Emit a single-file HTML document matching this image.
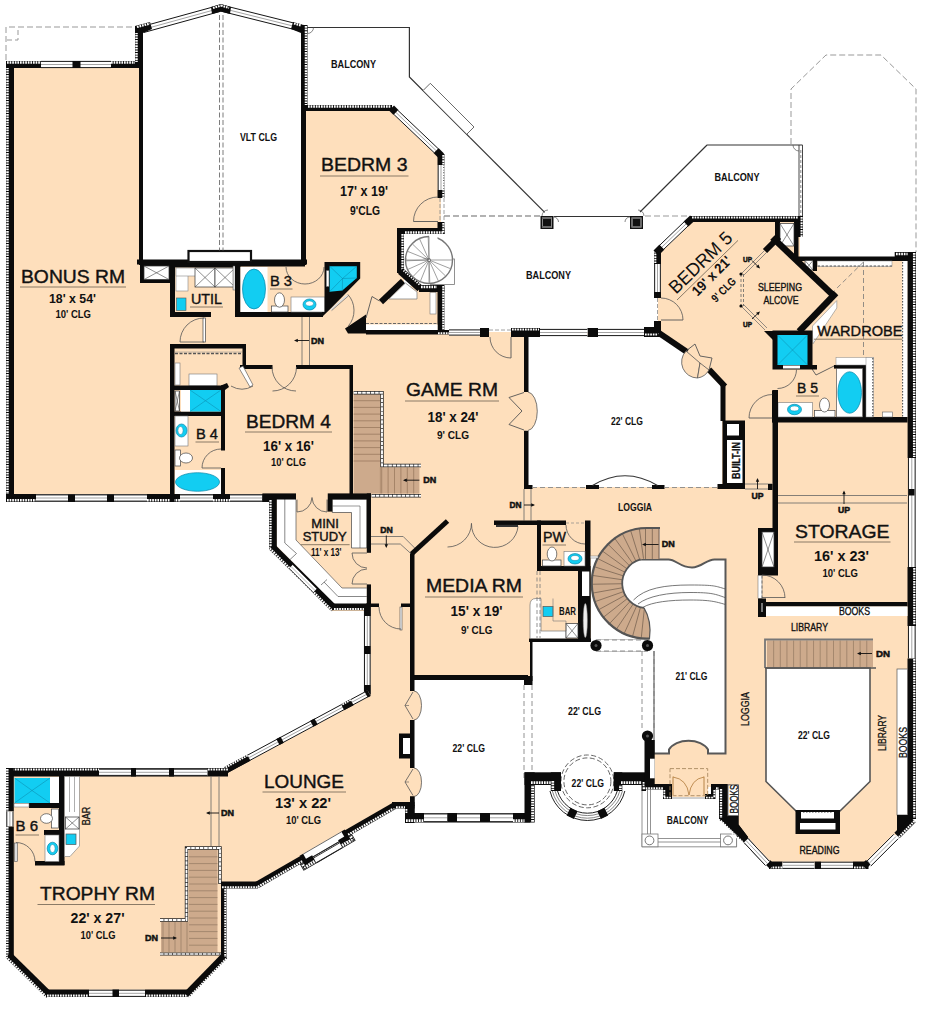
<!DOCTYPE html>
<html><head><meta charset="utf-8"><title>Floor plan</title>
<style>html,body{margin:0;padding:0;background:#fff}svg{display:block}text{font-family:"Liberation Sans",sans-serif}</style>
</head><body>
<svg width="940" height="1034" viewBox="0 0 940 1034">
<rect width="940" height="1034" fill="#fff"/>
<polygon points="9,64 139,64 139,263 304,263 304,108 392,108 441,155 441,231 400,231 400,272 418,288 441,288 441,332 658,332 658,252 692,219 800,219 800,258 911,258 911,819 867,865 769,865 724,819 724,787 708,787 708,797 668,797 668,787 643,787 643,781 528,781 528,818 409,818 409,805 394,805 258,885 224,885 224,958 188,993 47,993 9,958 9,772 228,772 368,694 368,611 331,611 273,549 273,498 9,498" fill="#FEDFBC"/>
<polygon points="526,335 661,335 686,352 722,387 722,487 526,487" fill="#fff"/>
<path d="M414 680 L530 680 L530 642 L591 642 L591 558 L597 558 A56 56 0 0 1 647 527.3 L660 527.3 L660 559.4 L668.5 559.4 C676 559.4 680 567.5 692 567.5 C702 567.5 706 559.4 714.5 559.4 L725.5 559.4 L725.5 753.5 L708 753.5 L708 749.5 A21 14 0 0 0 669 749.5 L669 753.5 L650 753.5 L650 781 L528 781 L528 818 L414 818 Z" fill="#fff" />
<circle cx="587.4" cy="782" r="38" fill="#fff"/>
<polygon points="766,668 870,668 870,781.5 840,811 796,811 766,781.5" fill="#fff" stroke="#555" stroke-width="1.6"/>
<path d="M639.6 559.4 L668.5 559.4 C676 559.4 680 567.5 692 567.5 C702 567.5 706 559.4 714.5 559.4 L725.5 559.4 L725.5 753.5 L708 753.5 L708 749.5 A21 14 0 0 0 669 749.5 L669 753.5 L654 753.5" fill="none" stroke="#585858" stroke-width="2" />
<line x1="654" y1="651" x2="654" y2="753.5" stroke="#666" stroke-width="1.2"/>
<path d="M647 527.3 A56 56 0 1 0 649.44 639.25 Q652 621 643.98 607.92 A24.8 24.8 0 0 1 647 558.5 Z" fill="#CDAA8C" />
<rect x="640" y="527.3" width="19.5" height="31.7" fill="#CDAA8C"/>
<line x1="643.55" y1="558.74" x2="639.21" y2="527.84" stroke="#5e4d3f" stroke-width="0.6"/>
<line x1="639.66" y1="559.61" x2="630.42" y2="529.81" stroke="#5e4d3f" stroke-width="0.6"/>
<line x1="635.96" y1="561.09" x2="622.06" y2="533.16" stroke="#5e4d3f" stroke-width="0.6"/>
<line x1="632.54" y1="563.15" x2="614.35" y2="537.8" stroke="#5e4d3f" stroke-width="0.6"/>
<line x1="629.5" y1="565.73" x2="607.48" y2="543.63" stroke="#5e4d3f" stroke-width="0.6"/>
<line x1="626.91" y1="568.76" x2="601.63" y2="550.47" stroke="#5e4d3f" stroke-width="0.6"/>
<line x1="624.84" y1="572.17" x2="596.96" y2="558.17" stroke="#5e4d3f" stroke-width="0.6"/>
<line x1="623.34" y1="575.87" x2="593.58" y2="566.51" stroke="#5e4d3f" stroke-width="0.6"/>
<line x1="622.45" y1="579.75" x2="591.58" y2="575.29" stroke="#5e4d3f" stroke-width="0.6"/>
<line x1="622.2" y1="583.73" x2="591.01" y2="584.28" stroke="#5e4d3f" stroke-width="0.6"/>
<line x1="622.59" y1="587.7" x2="591.89" y2="593.24" stroke="#5e4d3f" stroke-width="0.6"/>
<line x1="623.61" y1="591.56" x2="594.19" y2="601.94" stroke="#5e4d3f" stroke-width="0.6"/>
<line x1="625.24" y1="595.2" x2="597.86" y2="610.16" stroke="#5e4d3f" stroke-width="0.6"/>
<line x1="627.43" y1="598.53" x2="602.8" y2="617.69" stroke="#5e4d3f" stroke-width="0.6"/>
<line x1="630.12" y1="601.47" x2="608.89" y2="624.33" stroke="#5e4d3f" stroke-width="0.6"/>
<line x1="633.25" y1="603.94" x2="615.96" y2="629.91" stroke="#5e4d3f" stroke-width="0.6"/>
<line x1="636.74" y1="605.88" x2="623.83" y2="634.28" stroke="#5e4d3f" stroke-width="0.6"/>
<line x1="640.49" y1="607.23" x2="632.3" y2="637.34" stroke="#5e4d3f" stroke-width="0.6"/>
<line x1="644.41" y1="607.96" x2="641.15" y2="638.99" stroke="#5e4d3f" stroke-width="0.6"/>
<line x1="645.5" y1="528" x2="645.5" y2="559" stroke="#5e4d3f" stroke-width="0.6"/>
<line x1="652.3" y1="528" x2="652.3" y2="559" stroke="#5e4d3f" stroke-width="0.6"/>
<line x1="659" y1="528" x2="659" y2="559" stroke="#5e4d3f" stroke-width="0.8"/>
<path d="M660 528 L647 528 A55.3 55.3 0 1 0 649.41 638.55" fill="none" stroke="#555" stroke-width="2.2" />
<path d="M649.44 639.25 Q652 621 643.98 607.92" fill="none" stroke="#555" stroke-width="1.2" />
<path d="M643.98 607.92 A24.8 24.8 0 0 1 640.58 559.35" fill="none" stroke="#555" stroke-width="1.8" />
<path d="M633.5 600 C645 588 665 585 690 585 S715 586 725.5 589" fill="none" stroke="#555" stroke-width="0.8" />
<path d="M638 604 C648 596 668 592.5 690 592.5 S715 594 725.5 597.7" fill="none" stroke="#555" stroke-width="0.8" />
<path d="M643 607.3 C652 602 670 600 690 600 S715 601.5 725.5 604.5" fill="none" stroke="#555" stroke-width="0.8" />
<line x1="658.6" y1="544.5" x2="643.5" y2="544.5" stroke="#111" stroke-width="0.9"/>
<polygon points="642,544.5 645.83,546.21 645.83,542.79" fill="#111"/>
<text x="661.7" y="547.4" font-size="8.5" font-weight="bold" text-anchor="start" fill="#111" textLength="13" lengthAdjust="spacingAndGlyphs" stroke="#111" stroke-width="0.5">DN</text>
<rect x="353.6" y="394" width="26.8" height="99.6" fill="#CDAA8C"/>
<rect x="380.4" y="467.4" width="39" height="26.2" fill="#CDAA8C"/>
<line x1="353.6" y1="400.7" x2="380.4" y2="400.7" stroke="#8a6a50" stroke-width="0.6"/>
<line x1="353.6" y1="407.4" x2="380.4" y2="407.4" stroke="#8a6a50" stroke-width="0.6"/>
<line x1="353.6" y1="414.1" x2="380.4" y2="414.1" stroke="#8a6a50" stroke-width="0.6"/>
<line x1="353.6" y1="420.8" x2="380.4" y2="420.8" stroke="#8a6a50" stroke-width="0.6"/>
<line x1="353.6" y1="427.5" x2="380.4" y2="427.5" stroke="#8a6a50" stroke-width="0.6"/>
<line x1="353.6" y1="434.2" x2="380.4" y2="434.2" stroke="#8a6a50" stroke-width="0.6"/>
<line x1="353.6" y1="440.9" x2="380.4" y2="440.9" stroke="#8a6a50" stroke-width="0.6"/>
<line x1="353.6" y1="447.6" x2="380.4" y2="447.6" stroke="#8a6a50" stroke-width="0.6"/>
<line x1="353.6" y1="454.3" x2="380.4" y2="454.3" stroke="#8a6a50" stroke-width="0.6"/>
<line x1="353.6" y1="461" x2="380.4" y2="461" stroke="#8a6a50" stroke-width="0.6"/>
<line x1="381.7" y1="467.4" x2="381.7" y2="493.6" stroke="#8a6a50" stroke-width="0.6"/>
<line x1="388.1" y1="467.4" x2="388.1" y2="493.6" stroke="#8a6a50" stroke-width="0.6"/>
<line x1="394.5" y1="467.4" x2="394.5" y2="493.6" stroke="#8a6a50" stroke-width="0.6"/>
<line x1="400.9" y1="467.4" x2="400.9" y2="493.6" stroke="#8a6a50" stroke-width="0.6"/>
<line x1="407.3" y1="467.4" x2="407.3" y2="493.6" stroke="#8a6a50" stroke-width="0.6"/>
<line x1="413.7" y1="467.4" x2="413.7" y2="493.6" stroke="#8a6a50" stroke-width="0.6"/>
<line x1="380.4" y1="467.4" x2="380.4" y2="493.6" stroke="#8a6a50" stroke-width="0.5"/>
<polyline points="353.6,392.7 382,392.7 382,465.5 421,465.5" fill="none" stroke="#222" stroke-width="3.4"/>
<polyline points="353.6,392.7 382,392.7 382,465.5 421,465.5" fill="none" stroke="#fff" stroke-width="1.9" stroke-dasharray="3.6 0.7"/>
<line x1="371.5" y1="495.7" x2="421" y2="495.7" stroke="#222" stroke-width="3.4"/>
<line x1="371.5" y1="495.7" x2="421" y2="495.7" stroke="#fff" stroke-width="1.9" stroke-dasharray="3.6 0.7"/>
<line x1="419.4" y1="480.2" x2="404.5" y2="480.2" stroke="#111" stroke-width="0.9"/>
<polygon points="403,480.2 406.83,481.91 406.83,478.49" fill="#111"/>
<text x="423.2" y="482.8" font-size="8.5" font-weight="bold" text-anchor="start" fill="#111" textLength="13" lengthAdjust="spacingAndGlyphs" stroke="#111" stroke-width="0.5">DN</text>
<rect x="189" y="850" width="28.5" height="102" fill="#CDAA8C"/>
<rect x="161" y="922" width="28" height="30" fill="#CDAA8C"/>
<line x1="189" y1="856.8" x2="217.5" y2="856.8" stroke="#7d6650" stroke-width="0.5"/>
<line x1="189" y1="863.6" x2="217.5" y2="863.6" stroke="#7d6650" stroke-width="0.5"/>
<line x1="189" y1="870.4" x2="217.5" y2="870.4" stroke="#7d6650" stroke-width="0.5"/>
<line x1="189" y1="877.2" x2="217.5" y2="877.2" stroke="#7d6650" stroke-width="0.5"/>
<line x1="189" y1="884" x2="217.5" y2="884" stroke="#7d6650" stroke-width="0.5"/>
<line x1="189" y1="890.8" x2="217.5" y2="890.8" stroke="#7d6650" stroke-width="0.5"/>
<line x1="189" y1="897.6" x2="217.5" y2="897.6" stroke="#7d6650" stroke-width="0.5"/>
<line x1="189" y1="904.4" x2="217.5" y2="904.4" stroke="#7d6650" stroke-width="0.5"/>
<line x1="189" y1="911.2" x2="217.5" y2="911.2" stroke="#7d6650" stroke-width="0.5"/>
<line x1="189" y1="918" x2="217.5" y2="918" stroke="#7d6650" stroke-width="0.5"/>
<line x1="189" y1="924.8" x2="217.5" y2="924.8" stroke="#7d6650" stroke-width="0.5"/>
<line x1="189" y1="931.6" x2="217.5" y2="931.6" stroke="#7d6650" stroke-width="0.5"/>
<line x1="189" y1="938.4" x2="217.5" y2="938.4" stroke="#7d6650" stroke-width="0.5"/>
<line x1="189" y1="945.2" x2="217.5" y2="945.2" stroke="#7d6650" stroke-width="0.5"/>
<line x1="163" y1="922" x2="163" y2="952" stroke="#7d6650" stroke-width="0.5"/>
<line x1="169" y1="922" x2="169" y2="952" stroke="#7d6650" stroke-width="0.5"/>
<line x1="175" y1="922" x2="175" y2="952" stroke="#7d6650" stroke-width="0.5"/>
<line x1="181" y1="922" x2="181" y2="952" stroke="#7d6650" stroke-width="0.5"/>
<line x1="187" y1="922" x2="187" y2="952" stroke="#7d6650" stroke-width="0.5"/>
<polyline points="160,920 186.5,920 186.5,848 220,848 220,884" fill="none" stroke="#222" stroke-width="3.4"/>
<polyline points="160,920 186.5,920 186.5,848 220,848 220,884" fill="none" stroke="#fff" stroke-width="1.9" stroke-dasharray="3.6 0.7"/>
<line x1="160" y1="954" x2="221" y2="954" stroke="#222" stroke-width="3"/>
<line x1="160" y1="954" x2="221" y2="954" stroke="#fff" stroke-width="1.7" stroke-dasharray="3.6 0.7"/>
<line x1="161" y1="938" x2="175.5" y2="938" stroke="#111" stroke-width="0.9"/>
<polygon points="177,938 173.17,936.29 173.17,939.71" fill="#111"/>
<text x="145" y="941" font-size="8.5" font-weight="bold" text-anchor="start" fill="#111" textLength="13" lengthAdjust="spacingAndGlyphs" stroke="#111" stroke-width="0.5">DN</text>
<rect x="767" y="640.5" width="106" height="26.5" fill="#CDAA8C"/>
<line x1="773.65" y1="640.5" x2="773.65" y2="667" stroke="#7d6650" stroke-width="0.5"/>
<line x1="780.3" y1="640.5" x2="780.3" y2="667" stroke="#7d6650" stroke-width="0.5"/>
<line x1="786.95" y1="640.5" x2="786.95" y2="667" stroke="#7d6650" stroke-width="0.5"/>
<line x1="793.6" y1="640.5" x2="793.6" y2="667" stroke="#7d6650" stroke-width="0.5"/>
<line x1="800.25" y1="640.5" x2="800.25" y2="667" stroke="#7d6650" stroke-width="0.5"/>
<line x1="806.9" y1="640.5" x2="806.9" y2="667" stroke="#7d6650" stroke-width="0.5"/>
<line x1="813.55" y1="640.5" x2="813.55" y2="667" stroke="#7d6650" stroke-width="0.5"/>
<line x1="820.2" y1="640.5" x2="820.2" y2="667" stroke="#7d6650" stroke-width="0.5"/>
<line x1="826.85" y1="640.5" x2="826.85" y2="667" stroke="#7d6650" stroke-width="0.5"/>
<line x1="833.5" y1="640.5" x2="833.5" y2="667" stroke="#7d6650" stroke-width="0.5"/>
<line x1="840.15" y1="640.5" x2="840.15" y2="667" stroke="#7d6650" stroke-width="0.5"/>
<line x1="846.8" y1="640.5" x2="846.8" y2="667" stroke="#7d6650" stroke-width="0.5"/>
<line x1="853.45" y1="640.5" x2="853.45" y2="667" stroke="#7d6650" stroke-width="0.5"/>
<line x1="860.1" y1="640.5" x2="860.1" y2="667" stroke="#7d6650" stroke-width="0.5"/>
<line x1="866.75" y1="640.5" x2="866.75" y2="667" stroke="#7d6650" stroke-width="0.5"/>
<polyline points="765,668 765,639.5 873,639.5" fill="none" stroke="#777" stroke-width="1.8"/>
<line x1="765" y1="668" x2="876" y2="668" stroke="#555" stroke-width="1.4"/>
<line x1="872" y1="653.5" x2="858.5" y2="653.5" stroke="#111" stroke-width="0.9"/>
<polygon points="857,653.5 860.83,655.21 860.83,651.79" fill="#111"/>
<text x="876" y="657" font-size="8.5" font-weight="bold" text-anchor="start" fill="#111" textLength="14" lengthAdjust="spacingAndGlyphs" stroke="#111" stroke-width="0.5">DN</text>
<rect x="6" y="61" width="8" height="441" fill="#0b0b0b"/>
<line x1="7.5" y1="62" x2="7.5" y2="501" stroke="#fff" stroke-width="2.5" stroke-dasharray="1.7 0.9"/>
<rect x="6" y="61" width="137" height="7" fill="#0b0b0b"/>
<line x1="7" y1="62.5" x2="41" y2="62.5" stroke="#fff" stroke-width="2.5" stroke-dasharray="1.7 0.9"/>
<line x1="111" y1="62.5" x2="143" y2="62.5" stroke="#fff" stroke-width="2.5" stroke-dasharray="1.7 0.9"/>
<line x1="41" y1="64.5" x2="111" y2="64.5" stroke="#fff" stroke-width="7"/>
<line x1="41" y1="61.4" x2="111" y2="61.4" stroke="#151515" stroke-width="1"/>
<line x1="41" y1="67.6" x2="111" y2="67.6" stroke="#151515" stroke-width="1"/>
<line x1="41" y1="64.5" x2="111" y2="64.5" stroke="#666" stroke-width="0.6"/>
<rect x="72.5" y="61" width="8" height="7" fill="#0b0b0b"/>
<rect x="135" y="26" width="8" height="42" fill="#0b0b0b"/>
<line x1="136.5" y1="27" x2="136.5" y2="62" stroke="#fff" stroke-width="2.5" stroke-dasharray="1.7 0.9"/>
<rect x="139" y="68" width="4" height="197" fill="#0b0b0b"/>
<line x1="143" y1="29.5" x2="221" y2="8" stroke="#fff" stroke-width="7"/>
<line x1="142.18" y1="26.51" x2="220.18" y2="5.01" stroke="#151515" stroke-width="1"/>
<line x1="143.82" y1="32.49" x2="221.82" y2="10.99" stroke="#151515" stroke-width="1"/>
<line x1="143" y1="29.5" x2="221" y2="8" stroke="#666" stroke-width="0.6"/>
<line x1="221" y1="8" x2="301" y2="28" stroke="#fff" stroke-width="7"/>
<line x1="221.75" y1="4.99" x2="301.75" y2="24.99" stroke="#151515" stroke-width="1"/>
<line x1="220.25" y1="11.01" x2="300.25" y2="31.01" stroke="#151515" stroke-width="1"/>
<line x1="221" y1="8" x2="301" y2="28" stroke="#666" stroke-width="0.6"/>
<polygon points="135,26 150,22 152,29 143,33 135,33" fill="#0b0b0b"/>
<line x1="137" y1="27" x2="150" y2="23.5" stroke="#fff" stroke-width="2.3" stroke-dasharray="1.7 0.9"/>
<polygon points="211,7 221,4 231,7 230,14 221,11.5 212,14" fill="#0b0b0b"/>
<line x1="213" y1="8" x2="221" y2="5.5" stroke="#fff" stroke-width="2.1" stroke-dasharray="1.7 0.9"/>
<line x1="221" y1="5.5" x2="229" y2="8" stroke="#fff" stroke-width="2.1" stroke-dasharray="1.7 0.9"/>
<polygon points="293,22 307.5,26 307.5,33 301,33 291,29" fill="#0b0b0b"/>
<line x1="294" y1="23.5" x2="306" y2="27" stroke="#fff" stroke-width="2.3" stroke-dasharray="1.7 0.9"/>
<rect x="301" y="25" width="6.5" height="86" fill="#0b0b0b"/>
<line x1="306" y1="26" x2="306" y2="105" stroke="#fff" stroke-width="2.5" stroke-dasharray="1.7 0.9"/>
<rect x="301" y="105" width="5" height="160" fill="#0b0b0b"/>
<rect x="137" y="259.5" width="170" height="5" fill="#0b0b0b"/>
<rect x="188.5" y="251" width="62.5" height="11" fill="#fff" stroke="#111" stroke-width="2.2"/>
<line x1="219.5" y1="15" x2="219.5" y2="251" stroke="#444" stroke-width="0.7" stroke-dasharray="5 2.5"/>
<line x1="223" y1="15" x2="223" y2="251" stroke="#444" stroke-width="0.7" stroke-dasharray="5 2.5"/>
<polyline points="6,60 6,27 135,27" fill="none" stroke="#999" stroke-width="1" stroke-dasharray="6 3"/>
<polyline points="7,40 18,40 18,28" fill="none" stroke="#999" stroke-width="1" stroke-dasharray="5 3"/>
<rect x="6" y="494" width="264" height="8" fill="#0b0b0b"/>
<rect x="349.5" y="494" width="7.5" height="5.5" fill="#0b0b0b"/>
<line x1="7" y1="500.3" x2="36" y2="500.3" stroke="#fff" stroke-width="2.5" stroke-dasharray="1.7 0.9"/>
<line x1="147" y1="500.3" x2="180" y2="500.3" stroke="#fff" stroke-width="2.5" stroke-dasharray="1.7 0.9"/>
<line x1="213" y1="500.3" x2="230" y2="500.3" stroke="#fff" stroke-width="2.5" stroke-dasharray="1.7 0.9"/>
<line x1="36" y1="498" x2="147" y2="498" stroke="#fff" stroke-width="7"/>
<line x1="36" y1="494.9" x2="147" y2="494.9" stroke="#151515" stroke-width="1"/>
<line x1="36" y1="501.1" x2="147" y2="501.1" stroke="#151515" stroke-width="1"/>
<line x1="36" y1="498" x2="147" y2="498" stroke="#666" stroke-width="0.6"/>
<rect x="68" y="494.5" width="7" height="7.5" fill="#0b0b0b"/>
<rect x="107" y="494.5" width="7" height="7.5" fill="#0b0b0b"/>
<line x1="180" y1="498" x2="213" y2="498" stroke="#fff" stroke-width="7"/>
<line x1="180" y1="494.9" x2="213" y2="494.9" stroke="#151515" stroke-width="1"/>
<line x1="180" y1="501.1" x2="213" y2="501.1" stroke="#151515" stroke-width="1"/>
<line x1="180" y1="498" x2="213" y2="498" stroke="#666" stroke-width="0.6"/>
<line x1="230" y1="498" x2="262.4" y2="498" stroke="#fff" stroke-width="7"/>
<line x1="230" y1="494.9" x2="262.4" y2="494.9" stroke="#151515" stroke-width="1"/>
<line x1="230" y1="501.1" x2="262.4" y2="501.1" stroke="#151515" stroke-width="1"/>
<line x1="230" y1="498" x2="262.4" y2="498" stroke="#666" stroke-width="0.6"/>
<rect x="262.4" y="499" width="7.6" height="3" fill="#0b0b0b"/>
<rect x="140" y="262" width="33" height="21" fill="#0b0b0b"/>
<rect x="144" y="266" width="25" height="13.5" fill="#fff" stroke="#333" stroke-width="0.7"/>
<line x1="144" y1="266" x2="169" y2="279.5" stroke="#444" stroke-width="0.6"/>
<line x1="144" y1="279.5" x2="169" y2="266" stroke="#444" stroke-width="0.6"/>
<rect x="170" y="263" width="5" height="54" fill="#0b0b0b"/>
<rect x="170" y="312" width="41" height="5" fill="#0b0b0b"/>
<rect x="173" y="263" width="67" height="4.5" fill="#0b0b0b"/>
<rect x="176" y="268" width="12" height="23" fill="#fff" stroke="#888" stroke-width="0.6"/>
<rect x="176" y="268" width="60" height="8" fill="#fff" stroke="#888" stroke-width="0.6"/>
<rect x="195" y="268" width="20" height="19" fill="#fff" stroke="#333" stroke-width="0.7"/>
<line x1="195" y1="268" x2="215" y2="287" stroke="#444" stroke-width="0.6"/>
<line x1="195" y1="287" x2="215" y2="268" stroke="#444" stroke-width="0.6"/>
<rect x="215" y="268" width="20" height="19" fill="#fff" stroke="#333" stroke-width="0.7"/>
<line x1="215" y1="268" x2="235" y2="287" stroke="#444" stroke-width="0.6"/>
<line x1="215" y1="287" x2="235" y2="268" stroke="#444" stroke-width="0.6"/>
<rect x="176.5" y="298" width="9.5" height="12.5" fill="#12CDF2" stroke="#555" stroke-width="0.6"/>
<rect x="233" y="266" width="3.5" height="24" fill="#ddd" stroke="#555" stroke-width="0.5"/>
<rect x="235" y="263" width="5.5" height="54" fill="#0b0b0b"/>
<rect x="235" y="312" width="88" height="5" fill="#0b0b0b"/>
<rect x="240.5" y="267" width="27" height="45" fill="#fff"/>
<ellipse cx="254" cy="289" rx="11.5" ry="20" fill="#12CDF2" stroke="#0a86a8" stroke-width="0.7"/>
<rect x="240" y="262" width="65" height="4.5" fill="#0b0b0b"/>
<rect x="291" y="297" width="34" height="15" fill="#fff" stroke="#777" stroke-width="0.6"/>
<ellipse cx="309.5" cy="304.5" rx="6.5" ry="5.5" fill="#12CDF2" stroke="#0a86a8" stroke-width="0.7"/>
<ellipse cx="309.5" cy="303.5" rx="4" ry="2.6" fill="#fff" stroke="#0a86a8" stroke-width="0.5"/>
<path d="M286 267 A19 17 0 0 0 324 267" fill="none" stroke="#555" stroke-width="0.8" />
<rect x="271.5" y="306" width="16.5" height="6" fill="#fff" stroke="#444" stroke-width="0.7"/>
<ellipse cx="279.5" cy="300" rx="5" ry="7.2" fill="#fff" stroke="#444" stroke-width="0.7"/>
<polygon points="324.5,262 360.2,262 360.2,278.5 330.5,308.7 322,317 322,312 324.5,312" fill="#0b0b0b"/>
<polygon points="329.6,266.2 356.8,266.2 356.8,278 342.3,290.5 329.6,291.7" fill="#12CDF2"/>
<line x1="342.5" y1="278.5" x2="329.6" y2="266.2" stroke="#0a86a8" stroke-width="0.5"/>
<line x1="342.5" y1="278.5" x2="356.8" y2="266.2" stroke="#0a86a8" stroke-width="0.5"/>
<line x1="342.5" y1="278.5" x2="356.8" y2="278" stroke="#0a86a8" stroke-width="0.5"/>
<line x1="342.5" y1="278.5" x2="342.3" y2="290.5" stroke="#0a86a8" stroke-width="0.5"/>
<line x1="342.5" y1="278.5" x2="329.6" y2="291.7" stroke="#0a86a8" stroke-width="0.5"/>
<rect x="326.2" y="270.4" width="2.8" height="16.2" fill="#fff" stroke="#444" stroke-width="0.5"/>
<line x1="302" y1="317" x2="302" y2="365" stroke="#666" stroke-width="0.8"/>
<line x1="309.5" y1="317" x2="309.5" y2="365" stroke="#666" stroke-width="0.8"/>
<line x1="309" y1="340.5" x2="295.5" y2="340.5" stroke="#111" stroke-width="0.9"/>
<polygon points="294,340.5 297.83,342.21 297.83,338.79" fill="#111"/>
<text x="311" y="344" font-size="8.5" font-weight="bold" text-anchor="start" fill="#111" textLength="13" lengthAdjust="spacingAndGlyphs" stroke="#111" stroke-width="0.5">DN</text>
<rect x="203" y="318" width="2.5" height="24" fill="#fff" stroke="#444" stroke-width="0.7"/>
<path d="M180 342 A24 24 0 0 1 204 318" fill="none" stroke="#555" stroke-width="0.8" />
<line x1="180" y1="342" x2="204" y2="342" stroke="#555" stroke-width="0.8"/>
<rect x="170" y="344" width="4.5" height="158" fill="#0b0b0b"/>
<rect x="170" y="344" width="76" height="4.5" fill="#0b0b0b"/>
<rect x="242.5" y="344" width="3.5" height="25" fill="#0b0b0b"/>
<rect x="240" y="365" width="32.5" height="4" fill="#0b0b0b"/>
<rect x="296" y="365" width="57" height="4" fill="#0b0b0b"/>
<rect x="349.5" y="365" width="3.5" height="133" fill="#0b0b0b"/>
<line x1="175" y1="353.5" x2="242" y2="353.5" stroke="#555" stroke-width="1.6" stroke-dasharray="3 1.5"/>
<line x1="175" y1="352" x2="242" y2="352" stroke="#888" stroke-width="0.5"/>
<rect x="175" y="363" width="5" height="22" fill="#fff" stroke="#777" stroke-width="0.6"/>
<rect x="189" y="374" width="28" height="12" fill="#fff" stroke="#777" stroke-width="0.6"/>
<rect x="174" y="385.5" width="51" height="4.5" fill="#0b0b0b"/>
<rect x="221" y="385.5" width="4" height="65" fill="#0b0b0b"/>
<rect x="221" y="468" width="4" height="27" fill="#0b0b0b"/>
<rect x="174" y="411.5" width="48" height="4.5" fill="#0b0b0b"/>
<rect x="181" y="390" width="9" height="21.5" fill="#fff"/>
<rect x="175" y="391" width="4.5" height="20" fill="#fff" stroke="#333" stroke-width="0.7"/>
<line x1="175" y1="391" x2="179.5" y2="411" stroke="#444" stroke-width="0.6"/>
<line x1="175" y1="411" x2="179.5" y2="391" stroke="#444" stroke-width="0.6"/>
<rect x="190" y="390" width="31" height="21.5" fill="#12CDF2"/>
<line x1="205.5" y1="400.7" x2="190" y2="390" stroke="#0a86a8" stroke-width="0.5"/>
<line x1="205.5" y1="400.7" x2="221" y2="390" stroke="#0a86a8" stroke-width="0.5"/>
<line x1="205.5" y1="400.7" x2="190" y2="411.5" stroke="#0a86a8" stroke-width="0.5"/>
<line x1="205.5" y1="400.7" x2="221" y2="411.5" stroke="#0a86a8" stroke-width="0.5"/>
<rect x="175" y="416" width="13" height="30" fill="#fff" stroke="#777" stroke-width="0.6"/>
<ellipse cx="181.5" cy="430.5" rx="5.5" ry="6.5" fill="#12CDF2" stroke="#0a86a8" stroke-width="0.7"/>
<ellipse cx="180.5" cy="430.5" rx="2.6" ry="4" fill="#fff" stroke="#0a86a8" stroke-width="0.5"/>
<rect x="175" y="450" width="5.5" height="16" fill="#fff" stroke="#444" stroke-width="0.7"/>
<ellipse cx="186" cy="458" rx="6.5" ry="5" fill="#fff" stroke="#444" stroke-width="0.7"/>
<rect x="175" y="470" width="46" height="24" fill="#fff"/>
<ellipse cx="197.5" cy="482" rx="22" ry="9.3" fill="#12CDF2" stroke="#0a86a8" stroke-width="0.7"/>
<polygon points="221,385.5 227,383 229,387 225,390" fill="#0b0b0b"/>
<path d="M202 468 A19 19 0 0 1 221 449" fill="none" stroke="#555" stroke-width="0.8" />
<line x1="202" y1="468" x2="221" y2="468" stroke="#555" stroke-width="0.8"/>
<path d="M296.5 367 A24 24 0 0 1 272.5 391" fill="none" stroke="#555" stroke-width="0.8" />
<path d="M296 391 A24 24 0 0 1 272 367" fill="none" stroke="#555" stroke-width="0.8" />
<polygon points="239,368 243,366 253,385 250,387" fill="#fff" stroke="#444" stroke-width="0.6"/>
<path d="M253 386.05 A22 22 0 0 1 231 386.05" fill="none" stroke="#555" stroke-width="0.8" />
<rect x="307" y="105" width="85" height="6" fill="#0b0b0b"/>
<line x1="308" y1="106.5" x2="391" y2="106.5" stroke="#fff" stroke-width="2.5" stroke-dasharray="1.7 0.9"/>
<line x1="391.5" y1="108" x2="396" y2="112.5" stroke="#0b0b0b" stroke-width="7"/>
<line x1="436" y1="150.5" x2="441.5" y2="156" stroke="#0b0b0b" stroke-width="7"/>
<line x1="396" y1="112.5" x2="436" y2="150.5" stroke="#fff" stroke-width="6.5"/>
<line x1="397.96" y1="110.43" x2="437.96" y2="148.43" stroke="#151515" stroke-width="1"/>
<line x1="394.04" y1="114.57" x2="434.04" y2="152.57" stroke="#151515" stroke-width="1"/>
<line x1="396" y1="112.5" x2="436" y2="150.5" stroke="#666" stroke-width="0.6"/>
<rect x="437.5" y="154" width="7" height="11" fill="#0b0b0b"/>
<line x1="441" y1="165" x2="441" y2="190" stroke="#fff" stroke-width="6.5"/>
<line x1="443.85" y1="165" x2="443.85" y2="190" stroke="#151515" stroke-width="1"/>
<line x1="438.15" y1="165" x2="438.15" y2="190" stroke="#151515" stroke-width="1"/>
<line x1="441" y1="165" x2="441" y2="190" stroke="#666" stroke-width="0.6"/>
<rect x="437.5" y="190" width="7" height="8" fill="#0b0b0b"/>
<line x1="443.3" y1="155" x2="443.3" y2="198" stroke="#fff" stroke-width="2.1" stroke-dasharray="1.7 0.9"/>
<rect x="437.5" y="222" width="7" height="12" fill="#0b0b0b"/>
<rect x="397" y="228" width="47.5" height="6" fill="#0b0b0b"/>
<line x1="405" y1="232.5" x2="444" y2="232.5" stroke="#fff" stroke-width="2.3" stroke-dasharray="1.7 0.9"/>
<line x1="443.3" y1="223" x2="443.3" y2="233" stroke="#fff" stroke-width="2.1" stroke-dasharray="1.7 0.9"/>
<line x1="440" y1="198" x2="440" y2="222" stroke="#888" stroke-width="0.8" stroke-dasharray="4 2"/>
<line x1="444" y1="198" x2="444" y2="222" stroke="#888" stroke-width="0.8" stroke-dasharray="4 2"/>
<line x1="444" y1="216" x2="540" y2="216" stroke="#999" stroke-width="1" stroke-dasharray="6 3"/>
<path d="M413.5 221.5 A24.5 24.5 0 0 1 438 197" fill="none" stroke="#555" stroke-width="0.8" />
<line x1="438" y1="221.5" x2="413.5" y2="221.5" stroke="#555" stroke-width="0.9"/>
<rect x="404" y="234" width="33.5" height="52" fill="#fff"/>
<rect x="397" y="228" width="7" height="45" fill="#0b0b0b"/>
<line x1="402.5" y1="234" x2="402.5" y2="272" stroke="#fff" stroke-width="2.3" stroke-dasharray="1.7 0.9"/>
<line x1="400.5" y1="271" x2="420" y2="288.5" stroke="#0b0b0b" stroke-width="7.5"/>
<line x1="403.5" y1="270.5" x2="421" y2="286" stroke="#fff" stroke-width="1.8" stroke-dasharray="1.3 1.2"/>
<rect x="419" y="285" width="25.5" height="7" fill="#0b0b0b"/>
<line x1="421" y1="287" x2="437" y2="287" stroke="#fff" stroke-width="2.3" stroke-dasharray="1.7 0.9"/>
<rect x="437.5" y="285" width="4.5" height="48.5" fill="#0b0b0b"/>
<line x1="443.3" y1="286" x2="443.3" y2="333" stroke="#222" stroke-width="2.4"/>
<line x1="443.3" y1="286" x2="443.3" y2="333" stroke="#fff" stroke-width="2.1" stroke-dasharray="1.7 0.9"/>
<rect x="430.5" y="259" width="24" height="25.5" fill="#fff" stroke="#777" stroke-width="0.8"/>
<circle cx="429" cy="260" r="23.5" fill="#fff" stroke="#777" stroke-width="1.4"/>
<line x1="429" y1="260" x2="429" y2="283" stroke="#777" stroke-width="0.7"/>
<line x1="429" y1="260" x2="420.38" y2="281.33" stroke="#777" stroke-width="0.7"/>
<line x1="429" y1="260" x2="413.02" y2="276.54" stroke="#777" stroke-width="0.7"/>
<line x1="429" y1="260" x2="407.99" y2="269.35" stroke="#777" stroke-width="0.7"/>
<line x1="429" y1="260" x2="406.01" y2="260.8" stroke="#777" stroke-width="0.7"/>
<line x1="429" y1="260" x2="407.39" y2="252.13" stroke="#777" stroke-width="0.7"/>
<line x1="429" y1="260" x2="411.91" y2="244.61" stroke="#777" stroke-width="0.7"/>
<line x1="429" y1="260" x2="418.92" y2="239.33" stroke="#777" stroke-width="0.7"/>
<line x1="429" y1="260" x2="427.4" y2="237.06" stroke="#777" stroke-width="0.7"/>
<line x1="429" y1="260" x2="452" y2="260" stroke="#777" stroke-width="0.7"/>
<line x1="429" y1="260" x2="450.33" y2="268.62" stroke="#777" stroke-width="0.7"/>
<line x1="429" y1="260" x2="445.54" y2="275.98" stroke="#777" stroke-width="0.7"/>
<line x1="429" y1="260" x2="438.35" y2="281.01" stroke="#777" stroke-width="0.7"/>
<line x1="429" y1="260" x2="429.8" y2="282.99" stroke="#777" stroke-width="0.7"/>
<circle cx="429" cy="260" r="1.6" fill="#fff" stroke="#555" stroke-width="0.7"/>
<rect x="404" y="234" width="33.5" height="24" fill="#fff"/>
<path d="M429 236.5 A23.5 23.5 0 0 0 405.5 260" fill="none" stroke="#777" stroke-width="1.4" />
<line x1="429" y1="260" x2="406" y2="260" stroke="#777" stroke-width="0.7"/>
<line x1="429" y1="260" x2="407.67" y2="251.38" stroke="#777" stroke-width="0.7"/>
<line x1="429" y1="260" x2="412.46" y2="244.02" stroke="#777" stroke-width="0.7"/>
<line x1="429" y1="260" x2="419.65" y2="238.99" stroke="#777" stroke-width="0.7"/>
<line x1="429" y1="260" x2="428.2" y2="237.01" stroke="#777" stroke-width="0.7"/>
<line x1="429" y1="236.5" x2="429" y2="260" stroke="#777" stroke-width="0.7"/>
<line x1="403" y1="281" x2="381" y2="302" stroke="#0b0b0b" stroke-width="6"/>
<polygon points="405.5,283 417,292 417,299 389,299" fill="#fff" stroke="#777" stroke-width="0.7"/>
<polygon points="345,328.5 366,314.5 366,333.5 348,333.5" fill="#0b0b0b"/>
<rect x="366" y="330" width="83" height="4.5" fill="#0b0b0b"/>
<line x1="438" y1="333.2" x2="449" y2="333.2" stroke="#fff" stroke-width="1.9" stroke-dasharray="1.7 0.9"/>
<rect x="366" y="324.5" width="71.5" height="5.5" fill="#fff"/>
<line x1="366" y1="323.5" x2="437" y2="323.5" stroke="#666" stroke-width="1" stroke-dasharray="3 1.5"/>
<rect x="430" y="292.5" width="6" height="21.5" fill="#fff" stroke="#777" stroke-width="0.6"/>
<polyline points="379.5,301 372,296.5 366,318" fill="none" stroke="#555" stroke-width="0.9"/>
<path d="M347.84 294.44 A24 24 0 0 1 348.39 325.93" fill="none" stroke="#555" stroke-width="0.8" />
<line x1="347.6" y1="295.2" x2="331" y2="309.8" stroke="#ddd" stroke-width="1.6"/>
<line x1="348.3" y1="296" x2="331.6" y2="310.6" stroke="#555" stroke-width="0.6"/>
<rect x="480" y="328" width="9" height="9" fill="#0b0b0b"/>
<rect x="511" y="328" width="29" height="9" fill="#0b0b0b"/>
<rect x="587.5" y="328" width="10.5" height="9" fill="#0b0b0b"/>
<rect x="644" y="328" width="17" height="9" fill="#0b0b0b"/>
<line x1="512" y1="329.5" x2="539" y2="329.5" stroke="#fff" stroke-width="2.1" stroke-dasharray="1.7 0.9"/>
<line x1="645" y1="329.5" x2="655" y2="329.5" stroke="#fff" stroke-width="2.1" stroke-dasharray="1.7 0.9"/>
<line x1="449" y1="332.5" x2="480" y2="332.5" stroke="#fff" stroke-width="6"/>
<line x1="449" y1="329.9" x2="480" y2="329.9" stroke="#151515" stroke-width="1"/>
<line x1="449" y1="335.1" x2="480" y2="335.1" stroke="#151515" stroke-width="1"/>
<line x1="449" y1="332.5" x2="480" y2="332.5" stroke="#666" stroke-width="0.6"/>
<line x1="540" y1="332.5" x2="587.5" y2="332.5" stroke="#fff" stroke-width="7"/>
<line x1="540" y1="329.4" x2="587.5" y2="329.4" stroke="#151515" stroke-width="1"/>
<line x1="540" y1="335.6" x2="587.5" y2="335.6" stroke="#151515" stroke-width="1"/>
<line x1="540" y1="332.5" x2="587.5" y2="332.5" stroke="#666" stroke-width="0.6"/>
<line x1="598" y1="332.5" x2="644" y2="332.5" stroke="#fff" stroke-width="7"/>
<line x1="598" y1="329.4" x2="644" y2="329.4" stroke="#151515" stroke-width="1"/>
<line x1="598" y1="335.6" x2="644" y2="335.6" stroke="#151515" stroke-width="1"/>
<line x1="598" y1="332.5" x2="644" y2="332.5" stroke="#666" stroke-width="0.6"/>
<line x1="489" y1="330" x2="511" y2="330" stroke="#888" stroke-width="0.8" stroke-dasharray="4 2"/>
<path d="M511 358 A21 21 0 0 1 490 337" fill="none" stroke="#555" stroke-width="0.8" />
<line x1="511" y1="337" x2="511" y2="358" stroke="#555" stroke-width="0.9"/>
<rect x="524" y="333" width="4.5" height="59" fill="#0b0b0b"/>
<rect x="524" y="430.5" width="4.5" height="58.5" fill="#0b0b0b"/>
<rect x="523.5" y="392" width="5.5" height="38.5" fill="#FEDFBC"/>
<path d="M528 392 A10 19.3 0 0 1 528 430.5 Z" fill="#FEDFBC" />
<path d="M528 392 A10 19.3 0 0 1 528 430.5" fill="none" stroke="#555" stroke-width="0.8" />
<polyline points="524,392.5 509,397.5 522,411 509,424.5 524,430" fill="none" stroke="#555" stroke-width="0.9"/>
<rect x="524" y="485" width="8.5" height="4" fill="#0b0b0b"/>
<rect x="586" y="485" width="13" height="4" fill="#0b0b0b"/>
<rect x="652" y="485" width="12.5" height="4" fill="#0b0b0b"/>
<line x1="532" y1="487.5" x2="586" y2="487.5" stroke="#888" stroke-width="0.9" stroke-dasharray="5 3"/>
<line x1="599" y1="487.5" x2="652" y2="487.5" stroke="#888" stroke-width="0.9" stroke-dasharray="5 3"/>
<line x1="664" y1="487.5" x2="722" y2="487.5" stroke="#888" stroke-width="0.9" stroke-dasharray="5 3"/>
<path d="M592.5 485.5 Q625 466 657.5 485.5" fill="none" stroke="#333" stroke-width="1.2" />
<line x1="524" y1="489" x2="524" y2="520.5" stroke="#666" stroke-width="0.8"/>
<line x1="531" y1="489" x2="531" y2="520.5" stroke="#666" stroke-width="0.8"/>
<line x1="524" y1="505" x2="533.5" y2="505" stroke="#111" stroke-width="0.9"/>
<polygon points="535,505 531.17,503.29 531.17,506.71" fill="#111"/>
<text x="509.5" y="508" font-size="8.5" font-weight="bold" text-anchor="start" fill="#111" textLength="12" lengthAdjust="spacingAndGlyphs" stroke="#111" stroke-width="0.5">DN</text>
<rect x="654" y="250" width="7" height="14" fill="#0b0b0b"/>
<line x1="657.5" y1="264" x2="657.5" y2="292" stroke="#fff" stroke-width="6.5"/>
<line x1="660.35" y1="264" x2="660.35" y2="292" stroke="#151515" stroke-width="1"/>
<line x1="654.65" y1="264" x2="654.65" y2="292" stroke="#151515" stroke-width="1"/>
<line x1="657.5" y1="264" x2="657.5" y2="292" stroke="#666" stroke-width="0.6"/>
<rect x="654" y="292" width="7" height="6" fill="#0b0b0b"/>
<rect x="654" y="321" width="7" height="13" fill="#0b0b0b"/>
<line x1="655.3" y1="251" x2="655.3" y2="263" stroke="#fff" stroke-width="2.1" stroke-dasharray="1.7 0.9"/>
<rect x="644" y="327" width="17" height="9" fill="#0b0b0b"/>
<line x1="645" y1="334.5" x2="660" y2="334.5" stroke="#fff" stroke-width="2.1" stroke-dasharray="1.7 0.9"/>
<line x1="657.5" y1="298" x2="657.5" y2="321" stroke="#888" stroke-width="0.8" stroke-dasharray="4 2"/>
<path d="M683 320 A22 22 0 0 0 661 298" fill="none" stroke="#555" stroke-width="0.8" />
<line x1="661" y1="320" x2="683" y2="320" stroke="#555" stroke-width="0.9"/>
<line x1="656" y1="253" x2="662" y2="247" stroke="#0b0b0b" stroke-width="7"/>
<line x1="662" y1="247" x2="686" y2="224" stroke="#fff" stroke-width="6.5"/>
<line x1="660.03" y1="244.94" x2="684.03" y2="221.94" stroke="#151515" stroke-width="1"/>
<line x1="663.97" y1="249.06" x2="687.97" y2="226.06" stroke="#151515" stroke-width="1"/>
<line x1="662" y1="247" x2="686" y2="224" stroke="#666" stroke-width="0.6"/>
<line x1="686" y1="224" x2="692.5" y2="218" stroke="#0b0b0b" stroke-width="7"/>
<rect x="690" y="216" width="113" height="6" fill="#0b0b0b"/>
<line x1="692" y1="217.5" x2="802" y2="217.5" stroke="#fff" stroke-width="2.1" stroke-dasharray="1.7 0.9"/>
<rect x="798" y="216" width="5" height="21" fill="#0b0b0b"/>
<line x1="801.6" y1="217" x2="801.6" y2="237" stroke="#fff" stroke-width="2.1" stroke-dasharray="1.7 0.9"/>
<rect x="775" y="222" width="5" height="18" fill="#0b0b0b"/>
<rect x="794" y="222" width="4.5" height="36" fill="#0b0b0b"/>
<rect x="780" y="223.5" width="14" height="22.5" fill="#fff" stroke="#333" stroke-width="0.7"/>
<line x1="780" y1="223.5" x2="794" y2="246" stroke="#444" stroke-width="0.6"/>
<line x1="780" y1="246" x2="794" y2="223.5" stroke="#444" stroke-width="0.6"/>
<rect x="798" y="256.5" width="114" height="4.5" fill="#0b0b0b"/>
<rect x="894.7" y="252" width="21.3" height="5" fill="#0b0b0b"/>
<line x1="896" y1="254" x2="915" y2="254" stroke="#fff" stroke-width="2.7" stroke-dasharray="1.7 0.9"/>
<rect x="805" y="260.5" width="8" height="9.5" fill="#fff" stroke="#333" stroke-width="0.7"/>
<line x1="805" y1="260.5" x2="813" y2="270" stroke="#444" stroke-width="0.6"/>
<line x1="805" y1="270" x2="813" y2="260.5" stroke="#444" stroke-width="0.6"/>
<rect x="813" y="259" width="4" height="12" fill="#0b0b0b"/>
<line x1="659" y1="333" x2="687" y2="352" stroke="#0b0b0b" stroke-width="6"/>
<line x1="709" y1="369.5" x2="725" y2="386.5" stroke="#0b0b0b" stroke-width="6"/>
<rect x="720.5" y="384" width="5" height="37" fill="#0b0b0b"/>
<path d="M686 351 A16 16 0 0 0 697.5 378 L700 363 Z" fill="#FEDFBC" stroke="#555" stroke-width="0.8" />
<path d="M709 370 A16 16 0 0 1 697.5 378 L700 363 Z" fill="#FEDFBC" stroke="#555" stroke-width="0.8" />
<polyline points="686,351 695,344 700,356 712,358 709,370" fill="none" stroke="#555" stroke-width="0.9"/>
<line x1="765" y1="251" x2="779" y2="237" stroke="#0b0b0b" stroke-width="6"/>
<line x1="772.5" y1="237.5" x2="834.5" y2="296.5" stroke="#0b0b0b" stroke-width="6.5"/>
<line x1="836" y1="293" x2="799" y2="331.5" stroke="#0b0b0b" stroke-width="6.5"/>
<polygon points="836.8,300.6 836.8,308 813,343.8 812.5,335 812.5,326" fill="#fff" stroke="#888" stroke-width="0.6"/>
<line x1="741" y1="274" x2="741" y2="306" stroke="#666" stroke-width="0.8" stroke-dasharray="3 2"/>
<line x1="743.5" y1="274" x2="743.5" y2="306" stroke="#666" stroke-width="0.8" stroke-dasharray="3 2"/>
<line x1="741" y1="274" x2="765" y2="250" stroke="#666" stroke-width="0.7"/>
<line x1="743" y1="276" x2="767" y2="252" stroke="#666" stroke-width="0.7"/>
<line x1="741" y1="306" x2="765" y2="330" stroke="#666" stroke-width="0.7"/>
<line x1="743" y1="304" x2="767" y2="328" stroke="#666" stroke-width="0.7"/>
<circle cx="741" cy="274" r="1.6" fill="#0b0b0b"/>
<circle cx="741" cy="306" r="1.6" fill="#0b0b0b"/>
<line x1="752" y1="260.5" x2="758.94" y2="267.44" stroke="#111" stroke-width="0.9"/>
<polygon points="760,268.5 758.5,264.58 756.08,267" fill="#111"/>
<line x1="752" y1="319" x2="758.91" y2="312.53" stroke="#111" stroke-width="0.9"/>
<polygon points="760,311.5 756.03,312.87 758.37,315.37" fill="#111"/>
<text x="747.5" y="262" font-size="7" font-weight="bold" text-anchor="middle" fill="#111" textLength="9" lengthAdjust="spacingAndGlyphs" stroke="#111" stroke-width="0.5">UP</text>
<text x="747.5" y="327" font-size="7" font-weight="bold" text-anchor="middle" fill="#111" textLength="9" lengthAdjust="spacingAndGlyphs" stroke="#111" stroke-width="0.5">UP</text>
<polygon points="764,331 773,331 773,340" fill="#0b0b0b"/>
<rect x="772.5" y="330.5" width="40" height="39" fill="#0b0b0b"/>
<rect x="777.5" y="335" width="30" height="30" fill="#12CDF2"/>
<line x1="792.5" y1="350" x2="777.5" y2="335" stroke="#0a86a8" stroke-width="0.5"/>
<line x1="792.5" y1="350" x2="807.5" y2="335" stroke="#0a86a8" stroke-width="0.5"/>
<line x1="792.5" y1="350" x2="777.5" y2="365" stroke="#0a86a8" stroke-width="0.5"/>
<line x1="792.5" y1="350" x2="807.5" y2="365" stroke="#0a86a8" stroke-width="0.5"/>
<rect x="783" y="365.5" width="17" height="3" fill="#fff"/>
<rect x="772" y="390.5" width="6" height="32" fill="#0b0b0b"/>
<rect x="772.5" y="417" width="135" height="5.5" fill="#0b0b0b"/>
<path d="M796.5 369.5 A19 19 0 0 1 777.5 388.5" fill="none" stroke="#555" stroke-width="0.8" />
<rect x="778" y="402.5" width="34.5" height="14.5" fill="#fff" stroke="#777" stroke-width="0.6"/>
<ellipse cx="794.5" cy="409.5" rx="7" ry="5.2" fill="#12CDF2" stroke="#0a86a8" stroke-width="0.7"/>
<ellipse cx="794.5" cy="408.5" rx="4.3" ry="2.5" fill="#fff" stroke="#0a86a8" stroke-width="0.5"/>
<rect x="814.5" y="410.5" width="20.5" height="6.5" fill="#fff" stroke="#444" stroke-width="0.7"/>
<ellipse cx="824.5" cy="405" rx="5" ry="7" fill="#fff" stroke="#444" stroke-width="0.7"/>
<rect x="834" y="365" width="32" height="3.6" fill="#0b0b0b"/>
<rect x="862.6" y="365" width="3.4" height="53" fill="#0b0b0b"/>
<rect x="836.5" y="368.6" width="26.1" height="48.4" fill="#fff" stroke="#555" stroke-width="0.7"/>
<ellipse cx="849.7" cy="392.5" rx="11.8" ry="20.7" fill="#12CDF2" stroke="#0a86a8" stroke-width="0.7"/>
<rect x="836" y="357.6" width="37.6" height="7.4" fill="#fff" stroke="#888" stroke-width="0.5"/>
<rect x="866" y="357.6" width="7.6" height="59.4" fill="#fff" stroke="#888" stroke-width="0.5"/>
<line x1="872.8" y1="358" x2="872.8" y2="417" stroke="#555" stroke-width="1.2" stroke-dasharray="1.5 1.5"/>
<rect x="882.5" y="412" width="10" height="5" fill="#fff" stroke="#666" stroke-width="0.6"/>
<polyline points="812,369 816,375 834,366" fill="none" stroke="#555" stroke-width="0.9"/>
<rect x="812" y="365" width="5" height="4.5" fill="#0b0b0b"/>
<rect x="817.6" y="261" width="74.4" height="5.6" fill="#fff" stroke="#888" stroke-width="0.5"/>
<line x1="817.6" y1="266" x2="892" y2="266" stroke="#555" stroke-width="1" stroke-dasharray="2.5 1.5"/>
<line x1="863.5" y1="262" x2="863.5" y2="357" stroke="#777" stroke-width="0.8" stroke-dasharray="5 3"/>
<line x1="863.5" y1="262" x2="834.5" y2="290.5" stroke="#777" stroke-width="0.8" stroke-dasharray="5 3"/>
<rect x="902.4" y="261" width="5.2" height="156" fill="#fff"/>
<line x1="902.6" y1="262" x2="902.6" y2="417" stroke="#555" stroke-width="1.1" stroke-dasharray="1.5 1.5"/>
<rect x="907.6" y="252" width="8.4" height="206" fill="#0b0b0b"/>
<line x1="914.2" y1="253" x2="914.2" y2="457" stroke="#fff" stroke-width="2.5" stroke-dasharray="1.7 0.9"/>
<line x1="911.8" y1="458" x2="911.8" y2="567" stroke="#fff" stroke-width="7.5"/>
<line x1="915.15" y1="458" x2="915.15" y2="567" stroke="#151515" stroke-width="1"/>
<line x1="908.45" y1="458" x2="908.45" y2="567" stroke="#151515" stroke-width="1"/>
<line x1="911.8" y1="458" x2="911.8" y2="567" stroke="#666" stroke-width="0.6"/>
<rect x="909" y="489" width="5.5" height="6.5" fill="#0b0b0b"/>
<rect x="907.5" y="567" width="8.5" height="59" fill="#0b0b0b"/>
<line x1="914.3" y1="568" x2="914.3" y2="625" stroke="#fff" stroke-width="2.3" stroke-dasharray="1.7 0.9"/>
<line x1="911.8" y1="626" x2="911.8" y2="658.5" stroke="#fff" stroke-width="7.5"/>
<line x1="915.15" y1="626" x2="915.15" y2="658.5" stroke="#151515" stroke-width="1"/>
<line x1="908.45" y1="626" x2="908.45" y2="658.5" stroke="#151515" stroke-width="1"/>
<line x1="911.8" y1="626" x2="911.8" y2="658.5" stroke="#666" stroke-width="0.6"/>
<rect x="907.5" y="658.5" width="8.5" height="160.5" fill="#0b0b0b"/>
<line x1="914.3" y1="659" x2="914.3" y2="818" stroke="#fff" stroke-width="2.3" stroke-dasharray="1.7 0.9"/>
<polyline points="791,144 791,89 826,55 881,55 916,89 916,252" fill="none" stroke="#999" stroke-width="1" stroke-dasharray="6 3"/>
<polyline points="640,212 705,147 707,145 802.5,145" fill="none" stroke="#333" stroke-width="1.2"/>
<line x1="799" y1="145" x2="799" y2="216" stroke="#333" stroke-width="0.9"/>
<line x1="802.5" y1="145" x2="802.5" y2="216" stroke="#333" stroke-width="0.9"/>
<line x1="800.8" y1="150" x2="800.8" y2="216" stroke="#555" stroke-width="0.7" stroke-dasharray="3 2"/>
<path d="M799 151 A6 6 0 0 1 793 145" fill="none" stroke="#555" stroke-width="0.7" />
<polyline points="470,137.6 544.7,212.3" fill="none" stroke="#333" stroke-width="1.2"/>
<line x1="554" y1="216.5" x2="630" y2="216.5" stroke="#333" stroke-width="1.2"/>
<rect x="540.5" y="216" width="13" height="13" fill="#111"/>
<rect x="542.5" y="218" width="9" height="9" fill="none" stroke="#fff" stroke-width="1"/>
<rect x="542.5" y="218" width="9" height="9" fill="none" stroke="#111" stroke-width="0.5"/>
<rect x="544.5" y="220" width="5" height="5" fill="#111"/>
<rect x="630" y="216" width="13" height="13" fill="#111"/>
<rect x="632" y="218" width="9" height="9" fill="none" stroke="#fff" stroke-width="1"/>
<rect x="632" y="218" width="9" height="9" fill="none" stroke="#111" stroke-width="0.5"/>
<rect x="634" y="220" width="5" height="5" fill="#111"/>
<path d="M542 216 A6 6 0 0 1 548 210" fill="none" stroke="#555" stroke-width="0.7" />
<path d="M553.5 217 A5 5 0 0 1 558.5 222" fill="none" stroke="#555" stroke-width="0.7" />
<path d="M625 222 A5 5 0 0 1 630 217" fill="none" stroke="#555" stroke-width="0.7" />
<path d="M638 210 A6 6 0 0 1 644 216" fill="none" stroke="#555" stroke-width="0.7" />
<line x1="444" y1="216" x2="540" y2="216" stroke="#999" stroke-width="1" stroke-dasharray="6 3"/>
<line x1="645" y1="216" x2="690" y2="216" stroke="#999" stroke-width="1" stroke-dasharray="6 3"/>
<polyline points="307,27.5 409.4,27.5 409.4,77 470,137.6" fill="none" stroke="#333" stroke-width="1.2"/>
<path d="M313.5 27.5 A6 6 0 0 1 307.5 33.5" fill="none" stroke="#555" stroke-width="0.7" />
<polygon points="423,90.6 430.3,83.3 474,127 466.7,134.3" fill="#fff" stroke="#444" stroke-width="0.8"/>
<rect x="722.5" y="420.5" width="22.5" height="68.5" fill="#0b0b0b"/>
<rect x="727" y="424" width="12" height="11.5" fill="#fff"/>
<rect x="727" y="440" width="15.5" height="43" fill="#fff"/>
<rect x="717.5" y="484" width="27.5" height="5" fill="#0b0b0b"/>
<path d="M749 418 A23.5 23.5 0 0 1 772.5 394.5" fill="none" stroke="#555" stroke-width="0.8" />
<line x1="772.5" y1="418" x2="749" y2="418" stroke="#555" stroke-width="0.9"/>
<line x1="745" y1="484" x2="772" y2="484" stroke="#666" stroke-width="0.8"/>
<line x1="745" y1="489" x2="772" y2="489" stroke="#666" stroke-width="0.8"/>
<rect x="768" y="484" width="4.5" height="6" fill="#0b0b0b"/>
<line x1="757.5" y1="489" x2="757.5" y2="479.5" stroke="#111" stroke-width="0.9"/>
<polygon points="757.5,478 755.79,481.83 759.21,481.83" fill="#111"/>
<text x="757.5" y="498.5" font-size="8.5" font-weight="bold" text-anchor="middle" fill="#111" textLength="12" lengthAdjust="spacingAndGlyphs" stroke="#111" stroke-width="0.5">UP</text>
<rect x="772.5" y="390" width="5.5" height="140" fill="#0b0b0b"/>
<line x1="778" y1="495.5" x2="907" y2="495.5" stroke="#666" stroke-width="0.8"/>
<line x1="778" y1="503" x2="907" y2="503" stroke="#666" stroke-width="0.8"/>
<line x1="844" y1="504" x2="844" y2="492" stroke="#111" stroke-width="0.9"/>
<polygon points="844,490.5 842.29,494.33 845.71,494.33" fill="#111"/>
<text x="844" y="513" font-size="8.5" font-weight="bold" text-anchor="middle" fill="#111" textLength="12" lengthAdjust="spacingAndGlyphs" stroke="#111" stroke-width="0.5">UP</text>
<rect x="758" y="528" width="20" height="47.5" fill="#0b0b0b"/>
<rect x="762" y="532" width="12" height="35" fill="#fff" stroke="#333" stroke-width="0.7"/>
<line x1="762" y1="532" x2="774" y2="567" stroke="#444" stroke-width="0.6"/>
<line x1="762" y1="567" x2="774" y2="532" stroke="#444" stroke-width="0.6"/>
<rect x="758" y="575.5" width="4" height="23" fill="#fff" stroke="#666" stroke-width="0.5"/>
<line x1="762" y1="575.5" x2="762" y2="598.5" stroke="#666" stroke-width="0.8" stroke-dasharray="3 2"/>
<path d="M762 575 A23 23 0 0 1 785 598" fill="none" stroke="#555" stroke-width="0.8" />
<line x1="762" y1="597.5" x2="785" y2="597.5" stroke="#555" stroke-width="0.8"/>
<rect x="758" y="602" width="149.5" height="4.5" fill="#0b0b0b"/>
<rect x="758" y="598.5" width="8" height="18.5" fill="#0b0b0b"/>
<rect x="761" y="603" width="2" height="9" fill="#777"/>
<rect x="766" y="606.5" width="141.5" height="9.5" fill="#fff"/>
<rect x="897" y="669" width="10.5" height="146" fill="#fff" stroke="#555" stroke-width="0.7"/>
<polygon points="897,815 908,815 908,823 897,832" fill="#0b0b0b"/>
<line x1="913" y1="819.5" x2="897" y2="835.5" stroke="#0b0b0b" stroke-width="7.5"/>
<line x1="914.5" y1="821" x2="899" y2="837" stroke="#fff" stroke-width="2.1" stroke-dasharray="1.7 0.9"/>
<line x1="896" y1="836.5" x2="868.5" y2="864" stroke="#fff" stroke-width="7"/>
<line x1="898.19" y1="838.69" x2="870.69" y2="866.19" stroke="#151515" stroke-width="1"/>
<line x1="893.81" y1="834.31" x2="866.31" y2="861.81" stroke="#151515" stroke-width="1"/>
<line x1="896" y1="836.5" x2="868.5" y2="864" stroke="#666" stroke-width="0.6"/>
<rect x="853" y="861.5" width="15.5" height="7.5" fill="#0b0b0b"/>
<rect x="814.5" y="861.5" width="6.5" height="7.5" fill="#0b0b0b"/>
<rect x="769" y="861.5" width="13.5" height="7.5" fill="#0b0b0b"/>
<line x1="854" y1="867.5" x2="866" y2="867.5" stroke="#fff" stroke-width="1.9" stroke-dasharray="1.7 0.9"/>
<line x1="770" y1="867.5" x2="782" y2="867.5" stroke="#fff" stroke-width="1.9" stroke-dasharray="1.7 0.9"/>
<line x1="782.5" y1="865.3" x2="814.5" y2="865.3" stroke="#fff" stroke-width="7"/>
<line x1="782.5" y1="862.2" x2="814.5" y2="862.2" stroke="#151515" stroke-width="1"/>
<line x1="782.5" y1="868.4" x2="814.5" y2="868.4" stroke="#151515" stroke-width="1"/>
<line x1="782.5" y1="865.3" x2="814.5" y2="865.3" stroke="#666" stroke-width="0.6"/>
<line x1="821" y1="865.3" x2="853" y2="865.3" stroke="#fff" stroke-width="7"/>
<line x1="821" y1="862.2" x2="853" y2="862.2" stroke="#151515" stroke-width="1"/>
<line x1="821" y1="868.4" x2="853" y2="868.4" stroke="#151515" stroke-width="1"/>
<line x1="821" y1="865.3" x2="853" y2="865.3" stroke="#666" stroke-width="0.6"/>
<polygon points="866,869 870.5,864.5 866,860 862,864" fill="#0b0b0b"/>
<polygon points="770,869 765.5,864.5 770,860 774,864" fill="#0b0b0b"/>
<line x1="767.5" y1="863.5" x2="746" y2="840.5" stroke="#fff" stroke-width="6.5"/>
<line x1="765.42" y1="865.45" x2="743.92" y2="842.45" stroke="#151515" stroke-width="1"/>
<line x1="769.58" y1="861.55" x2="748.08" y2="838.55" stroke="#151515" stroke-width="1"/>
<line x1="767.5" y1="863.5" x2="746" y2="840.5" stroke="#666" stroke-width="0.6"/>
<line x1="747.5" y1="842" x2="722" y2="817.5" stroke="#0b0b0b" stroke-width="7"/>
<line x1="744.5" y1="843.5" x2="720.5" y2="820.5" stroke="#fff" stroke-width="2.1" stroke-dasharray="1.7 0.9"/>
<polygon points="728,816 738.5,816 738.5,824.5 748,837 744,842" fill="#0b0b0b"/>
<rect x="719" y="784" width="8.5" height="35" fill="#0b0b0b"/>
<line x1="721" y1="789" x2="721" y2="818" stroke="#fff" stroke-width="2.3" stroke-dasharray="1.7 0.9"/>
<rect x="728" y="785" width="10.5" height="30.7" fill="#fff" stroke="#444" stroke-width="0.7"/>
<rect x="795.5" y="810" width="44.5" height="24" fill="#0b0b0b"/>
<rect x="801" y="812" width="33" height="6.5" fill="#fff"/>
<rect x="800" y="823" width="35.5" height="6.5" fill="#fff"/>
<line x1="803" y1="812" x2="832" y2="812" stroke="#111" stroke-width="0.8" stroke-dasharray="1.5 1.5"/>
<polyline points="642,789.5 642,846.8 736.6,846.8 736.6,834" fill="none" stroke="#777" stroke-width="0.8"/>
<rect x="642" y="834" width="16" height="12.8" fill="#fff" stroke="#777" stroke-width="0.8"/>
<rect x="720.6" y="834" width="16" height="12.8" fill="#fff" stroke="#777" stroke-width="0.8"/>
<circle cx="649.5" cy="840.4" r="4.4" fill="#fff" stroke="#555" stroke-width="0.8"/>
<circle cx="728" cy="840.4" r="4.4" fill="#fff" stroke="#555" stroke-width="0.8"/>
<line x1="658" y1="838.5" x2="720.6" y2="838.5" stroke="#777" stroke-width="0.8"/>
<line x1="658" y1="842" x2="720.6" y2="842" stroke="#777" stroke-width="0.8"/>
<line x1="647.5" y1="789.5" x2="647.5" y2="834" stroke="#777" stroke-width="0.8"/>
<line x1="650.5" y1="789.5" x2="650.5" y2="834" stroke="#777" stroke-width="0.8"/>
<rect x="645" y="740" width="9" height="44" fill="#0b0b0b"/>
<rect x="649" y="758" width="5" height="20" fill="#fff"/>
<rect x="642" y="784" width="30" height="5.5" fill="#0b0b0b"/>
<line x1="643" y1="788.2" x2="663" y2="788.2" stroke="#fff" stroke-width="1.9" stroke-dasharray="1.7 0.9"/>
<rect x="663" y="784" width="9" height="15" fill="#0b0b0b"/>
<line x1="664" y1="797.6" x2="671" y2="797.6" stroke="#fff" stroke-width="1.9" stroke-dasharray="1.7 0.9"/>
<line x1="664.3" y1="790" x2="664.3" y2="798" stroke="#fff" stroke-width="1.9" stroke-dasharray="1.7 0.9"/>
<rect x="705" y="794" width="9" height="5" fill="#0b0b0b"/>
<rect x="711" y="784" width="16" height="5.5" fill="#0b0b0b"/>
<rect x="711" y="784" width="4.5" height="15" fill="#0b0b0b"/>
<line x1="706" y1="797.6" x2="714" y2="797.6" stroke="#fff" stroke-width="1.9" stroke-dasharray="1.7 0.9"/>
<line x1="714.3" y1="790" x2="714.3" y2="798" stroke="#fff" stroke-width="1.9" stroke-dasharray="1.7 0.9"/>
<line x1="716" y1="788.2" x2="726" y2="788.2" stroke="#fff" stroke-width="1.9" stroke-dasharray="1.7 0.9"/>
<rect x="670" y="768.6" width="37.7" height="27.1" fill="none" stroke="#a98a62" stroke-width="0.9" stroke-dasharray="4 2"/>
<line x1="673" y1="776.6" x2="673" y2="795" stroke="#b07a3a" stroke-width="0.9"/>
<line x1="704" y1="776.6" x2="704" y2="795" stroke="#b07a3a" stroke-width="0.9"/>
<path d="M673 777 Q687 779 689 795" fill="none" stroke="#b07a3a" stroke-width="0.8" />
<path d="M704 777 Q691 779 689 795" fill="none" stroke="#b07a3a" stroke-width="0.8" />
<line x1="672" y1="798" x2="705" y2="798" stroke="#888" stroke-width="0.8"/>
<rect x="719" y="784" width="8.5" height="35" fill="#0b0b0b"/>
<line x1="721" y1="789" x2="721" y2="818" stroke="#fff" stroke-width="2.3" stroke-dasharray="1.7 0.9"/>
<rect x="728" y="785" width="10.5" height="30.7" fill="#fff" stroke="#444" stroke-width="0.7"/>
<polygon points="728,816 738.5,816 738.5,824.5 748,837 744,842 721,819" fill="#0b0b0b"/>
<line x1="721" y1="822" x2="742.5" y2="843.5" stroke="#fff" stroke-width="1.9" stroke-dasharray="1.7 0.9"/>
<line x1="767.5" y1="863.5" x2="746" y2="840.5" stroke="#fff" stroke-width="6.5"/>
<line x1="765.42" y1="865.45" x2="743.92" y2="842.45" stroke="#151515" stroke-width="1"/>
<line x1="769.58" y1="861.55" x2="748.08" y2="838.55" stroke="#151515" stroke-width="1"/>
<line x1="767.5" y1="863.5" x2="746" y2="840.5" stroke="#666" stroke-width="0.6"/>
<rect x="596" y="640" width="51.5" height="11" fill="none" stroke="#777" stroke-width="0.8"/>
<rect x="596" y="640" width="51.5" height="11" fill="#fff" stroke="none"/>
<line x1="596" y1="640" x2="648" y2="640" stroke="#777" stroke-width="0.8" stroke-dasharray="5 3"/>
<line x1="596" y1="651" x2="648" y2="651" stroke="#777" stroke-width="0.8" stroke-dasharray="5 3"/>
<line x1="642" y1="651" x2="642" y2="730" stroke="#777" stroke-width="0.8" stroke-dasharray="5 3"/>
<line x1="654" y1="651" x2="654" y2="730" stroke="#777" stroke-width="0.8" stroke-dasharray="5 3"/>
<line x1="524" y1="685" x2="524" y2="779" stroke="#777" stroke-width="0.8" stroke-dasharray="5 3"/>
<line x1="532" y1="685" x2="532" y2="779" stroke="#777" stroke-width="0.8" stroke-dasharray="5 3"/>
<circle cx="596" cy="645.5" r="5.6" fill="#0b0b0b"/>
<circle cx="596" cy="645.5" r="1.5" fill="#555"/>
<circle cx="647.5" cy="645.5" r="5.6" fill="#0b0b0b"/>
<circle cx="647.5" cy="645.5" r="1.5" fill="#555"/>
<circle cx="647.5" cy="736" r="5.6" fill="#0b0b0b"/>
<circle cx="647.5" cy="736" r="1.5" fill="#555"/>
<circle cx="587.4" cy="781.4" r="26.4" fill="none" stroke="#555" stroke-width="0.9" stroke-dasharray="5 2.5"/>
<circle cx="587.4" cy="781.4" r="23.5" fill="none" stroke="#555" stroke-width="0.9" stroke-dasharray="5 2.5"/>
<rect x="494" y="520.5" width="72" height="4.5" fill="#0b0b0b"/>
<rect x="537" y="520.5" width="4" height="50" fill="#0b0b0b"/>
<rect x="585" y="520.5" width="5.5" height="121.5" fill="#0b0b0b"/>
<rect x="537" y="566" width="53.5" height="5" fill="#0b0b0b"/>
<rect x="410" y="553" width="4.5" height="138" fill="#0b0b0b"/>
<rect x="410" y="720" width="4.5" height="102" fill="#0b0b0b"/>
<line x1="447.5" y1="521" x2="411.5" y2="554" stroke="#0b0b0b" stroke-width="5"/>
<rect x="414" y="675" width="114" height="5" fill="#0b0b0b"/>
<rect x="524" y="676" width="8.5" height="9" fill="#0b0b0b"/>
<rect x="530" y="638.5" width="2.5" height="42.5" fill="#0b0b0b"/>
<rect x="529" y="638.5" width="62" height="3.5" fill="#0b0b0b"/>
<path d="M471.5 523 A24 24 0 0 1 447.5 547" fill="none" stroke="#555" stroke-width="0.8" />
<path d="M471.5 524 A23.3 23 0 0 0 518 526.5" fill="none" stroke="#555" stroke-width="0.8" />
<rect x="496" y="524.8" width="22" height="2.2" fill="#333"/>
<rect x="409.5" y="691" width="5.5" height="29" fill="#FEDFBC"/>
<path d="M414 691 A7.5 14.5 0 0 1 414 720 Z" fill="#FEDFBC" />
<path d="M414 691 A7.5 14.5 0 0 1 414 720" fill="none" stroke="#555" stroke-width="0.8" />
<polyline points="413,692 405,705.5 413,719" fill="none" stroke="#555" stroke-width="0.8"/>
<line x1="405" y1="705.5" x2="409" y2="705.5" stroke="#555" stroke-width="0.6"/>
<rect x="409.5" y="768" width="5.5" height="28.5" fill="#FEDFBC"/>
<path d="M414 768 A7.5 14.2 0 0 1 414 796.5 Z" fill="#FEDFBC" />
<path d="M414 768 A7.5 14.2 0 0 1 414 796.5" fill="none" stroke="#555" stroke-width="0.8" />
<polyline points="413,769 405,782 413,795.5" fill="none" stroke="#555" stroke-width="0.8"/>
<line x1="405" y1="782" x2="409" y2="782" stroke="#555" stroke-width="0.6"/>
<rect x="399" y="733.5" width="13" height="25" fill="#0b0b0b"/>
<rect x="403" y="738" width="7" height="16" fill="#fff"/>
<rect x="542.5" y="560" width="18.5" height="6" fill="#fff" stroke="#444" stroke-width="0.7"/>
<ellipse cx="552" cy="554" rx="4.8" ry="7" fill="#fff" stroke="#444" stroke-width="0.7"/>
<rect x="564" y="551.5" width="21" height="14.5" fill="#fff" stroke="#777" stroke-width="0.6"/>
<ellipse cx="575" cy="558.8" rx="7" ry="5.2" fill="#12CDF2" stroke="#0a86a8" stroke-width="0.7"/>
<ellipse cx="575" cy="558" rx="4.2" ry="2.5" fill="#fff" stroke="#0a86a8" stroke-width="0.5"/>
<path d="M585 544 A19 19 0 0 1 566 525" fill="none" stroke="#555" stroke-width="0.8" />
<line x1="566" y1="523" x2="585" y2="523" stroke="#888" stroke-width="0.7" stroke-dasharray="3 2"/>
<rect x="578" y="571" width="12.5" height="71" fill="#0b0b0b"/>
<rect x="582" y="571.5" width="7.3" height="24.5" fill="#fff"/>
<ellipse cx="585.3" cy="620.5" rx="2.1" ry="17" fill="#eee" stroke="#888" stroke-width="0.5"/>
<path d="M530 638.5 L530 605 Q530 598.5 536 598.5 L541 598.5 L541 631 L566 631 L566 638.5 Z" fill="#fff" stroke="#777" stroke-width="0.7" />
<rect x="566" y="623.5" width="12" height="14.5" fill="#fff" stroke="#333" stroke-width="0.7"/>
<line x1="566" y1="623.5" x2="578" y2="638" stroke="#444" stroke-width="0.6"/>
<line x1="566" y1="638" x2="578" y2="623.5" stroke="#444" stroke-width="0.6"/>
<rect x="543" y="606.5" width="10" height="10" fill="#12CDF2" stroke="#555" stroke-width="0.7"/>
<line x1="537" y1="571" x2="537" y2="638" stroke="#777" stroke-width="0.8" stroke-dasharray="4 2.5"/>
<line x1="540" y1="571" x2="540" y2="638" stroke="#777" stroke-width="0.8" stroke-dasharray="4 2.5"/>
<polyline points="553,598.5 553,621 566,621 566,631" fill="none" stroke="#777" stroke-width="0.6"/>
<rect x="590.5" y="556" width="7.5" height="2" fill="#fff" stroke="#666" stroke-width="0.5"/>
<polygon points="276.8,499 296,499 296,540 342,588 366.8,588 366.8,604 334,604 276.8,546" fill="#fff"/>
<polyline points="284.8,499 284.8,543 296.5,553.5 289.5,560" fill="none" stroke="#555" stroke-width="0.7"/>
<polyline points="296,499 296,540 342,588 366.8,588" fill="none" stroke="#555" stroke-width="0.7"/>
<polyline points="321,585 327,579.5" fill="none" stroke="#555" stroke-width="0.7"/>
<polyline points="324,582 338,596.5 366.8,596.5" fill="none" stroke="#555" stroke-width="0.7"/>
<polygon points="332.3,499 366.8,499 366.8,548 351.5,548 351.5,512.5 332.3,512.5" fill="#fff" stroke="#444" stroke-width="0.7"/>
<polyline points="332.3,506 360,506 360,548" fill="none" stroke="#555" stroke-width="0.6"/>
<rect x="269" y="499" width="7.8" height="51" fill="#0b0b0b"/>
<line x1="270.5" y1="500" x2="270.5" y2="549" stroke="#fff" stroke-width="2.3" stroke-dasharray="1.7 0.9"/>
<line x1="271.5" y1="546.5" x2="334" y2="608.5" stroke="#0b0b0b" stroke-width="7.5"/>
<line x1="269.8" y1="548.5" x2="332" y2="610.5" stroke="#fff" stroke-width="2.3" stroke-dasharray="1.7 0.9"/>
<line x1="291" y1="566.5" x2="315" y2="590.5" stroke="#fff" stroke-width="5"/>
<line x1="289.3" y1="568.3" x2="313.3" y2="592.3" stroke="#333" stroke-width="0.7"/>
<line x1="292.7" y1="564.7" x2="316.7" y2="588.7" stroke="#333" stroke-width="0.7"/>
<line x1="291" y1="566.5" x2="315" y2="590.5" stroke="#777" stroke-width="0.5"/>
<rect x="332" y="603.5" width="39" height="6.7" fill="#0b0b0b"/>
<line x1="334" y1="609" x2="366" y2="609" stroke="#fff" stroke-width="2.1" stroke-dasharray="1.7 0.9"/>
<rect x="366.8" y="493.4" width="4.2" height="59.4" fill="#0b0b0b"/>
<rect x="366.8" y="584.4" width="4.2" height="31.6" fill="#0b0b0b"/>
<rect x="262.4" y="493.4" width="33.6" height="6.1" fill="#0b0b0b"/>
<rect x="327.5" y="493.4" width="43.5" height="6.1" fill="#0b0b0b"/>
<rect x="327.5" y="499" width="4.8" height="12.6" fill="#0b0b0b"/>
<rect x="296" y="493" width="31.5" height="7" fill="#FEDFBC"/>
<path d="M297 512 A15 15 0 0 0 312 497.5" fill="none" stroke="#555" stroke-width="0.8" />
<path d="M327 512 A15 15 0 0 1 312 497.5" fill="none" stroke="#555" stroke-width="0.8" />
<line x1="297" y1="499.5" x2="297" y2="512" stroke="#555" stroke-width="0.8"/>
<line x1="327" y1="499.5" x2="327" y2="512" stroke="#555" stroke-width="0.8"/>
<path d="M352 553 A15 15 0 0 0 367 568" fill="none" stroke="#555" stroke-width="0.8" />
<path d="M352 584 A15 15 0 0 1 367 569" fill="none" stroke="#555" stroke-width="0.8" />
<line x1="352" y1="553" x2="367" y2="553" stroke="#555" stroke-width="0.8"/>
<line x1="352" y1="584" x2="367" y2="584" stroke="#555" stroke-width="0.8"/>
<polyline points="371,536.5 403.2,536.5 414.7,548" fill="none" stroke="#666" stroke-width="0.8"/>
<polyline points="371,544 400.3,544 411,553.7" fill="none" stroke="#666" stroke-width="0.8"/>
<line x1="386.3" y1="535.5" x2="386.3" y2="546.5" stroke="#111" stroke-width="0.9"/>
<polygon points="386.3,548 388.01,544.17 384.59,544.17" fill="#111"/>
<text x="380.2" y="532.7" font-size="8.5" font-weight="bold" text-anchor="start" fill="#111" textLength="12.5" lengthAdjust="spacingAndGlyphs" stroke="#111" stroke-width="0.5">DN</text>
<rect x="366" y="603.5" width="13" height="3.5" fill="#0b0b0b"/>
<rect x="401" y="603.5" width="9" height="3.5" fill="#0b0b0b"/>
<rect x="400" y="607" width="2" height="23" fill="#fff" stroke="#444" stroke-width="0.6"/>
<path d="M401 629 A22 22 0 0 1 379 607" fill="none" stroke="#555" stroke-width="0.8" />
<line x1="367.3" y1="607" x2="367.3" y2="694" stroke="#fff" stroke-width="6.5"/>
<line x1="370.15" y1="607" x2="370.15" y2="694" stroke="#151515" stroke-width="1"/>
<line x1="364.45" y1="607" x2="364.45" y2="694" stroke="#151515" stroke-width="1"/>
<line x1="367.3" y1="607" x2="367.3" y2="694" stroke="#666" stroke-width="0.6"/>
<rect x="364" y="607" width="6.5" height="9" fill="#0b0b0b"/>
<rect x="364" y="646" width="6.5" height="8" fill="#0b0b0b"/>
<rect x="364" y="685" width="6.5" height="10" fill="#0b0b0b"/>
<line x1="369" y1="693" x2="226" y2="770" stroke="#fff" stroke-width="6.5"/>
<line x1="370.35" y1="695.51" x2="227.35" y2="772.51" stroke="#151515" stroke-width="1"/>
<line x1="367.65" y1="690.49" x2="224.65" y2="767.49" stroke="#151515" stroke-width="1"/>
<line x1="369" y1="693" x2="226" y2="770" stroke="#666" stroke-width="0.6"/>
<line x1="369" y1="693" x2="366.14" y2="694.54" stroke="#0b0b0b" stroke-width="6.8"/>
<line x1="351.98" y1="702.16" x2="342.55" y2="707.25" stroke="#0b0b0b" stroke-width="6.8"/>
<line x1="350.78" y1="699.96" x2="341.35" y2="705.04" stroke="#fff" stroke-width="1.9" stroke-dasharray="1.7 0.9"/>
<line x1="316.09" y1="721.49" x2="311.8" y2="723.8" stroke="#0b0b0b" stroke-width="6.8"/>
<line x1="282.2" y1="739.74" x2="277.91" y2="742.05" stroke="#0b0b0b" stroke-width="6.8"/>
<line x1="248.88" y1="757.68" x2="226" y2="770" stroke="#0b0b0b" stroke-width="6.8"/>
<line x1="247.68" y1="755.48" x2="224.8" y2="767.8" stroke="#fff" stroke-width="1.9" stroke-dasharray="1.7 0.9"/>
<rect x="6" y="768" width="222" height="8.5" fill="#0b0b0b"/>
<line x1="7" y1="769.5" x2="99" y2="769.5" stroke="#fff" stroke-width="2.1" stroke-dasharray="1.7 0.9"/>
<line x1="208" y1="769.5" x2="228" y2="769.5" stroke="#fff" stroke-width="2.1" stroke-dasharray="1.7 0.9"/>
<line x1="99" y1="772.3" x2="207.5" y2="772.3" stroke="#fff" stroke-width="7"/>
<line x1="99" y1="769.2" x2="207.5" y2="769.2" stroke="#151515" stroke-width="1"/>
<line x1="99" y1="775.4" x2="207.5" y2="775.4" stroke="#151515" stroke-width="1"/>
<line x1="99" y1="772.3" x2="207.5" y2="772.3" stroke="#666" stroke-width="0.6"/>
<rect x="131" y="768" width="5" height="8.5" fill="#0b0b0b"/>
<rect x="169" y="768" width="5" height="8.5" fill="#0b0b0b"/>
<rect x="6" y="768" width="7.8" height="43.5" fill="#0b0b0b"/>
<line x1="9.9" y1="811.5" x2="9.9" y2="826.5" stroke="#fff" stroke-width="7"/>
<line x1="13" y1="811.5" x2="13" y2="826.5" stroke="#151515" stroke-width="1"/>
<line x1="6.8" y1="811.5" x2="6.8" y2="826.5" stroke="#151515" stroke-width="1"/>
<line x1="9.9" y1="811.5" x2="9.9" y2="826.5" stroke="#666" stroke-width="0.6"/>
<rect x="6" y="826.5" width="7.8" height="131.5" fill="#0b0b0b"/>
<line x1="7.3" y1="769" x2="7.3" y2="811" stroke="#fff" stroke-width="2.5" stroke-dasharray="1.7 0.9"/>
<line x1="7.3" y1="827" x2="7.3" y2="957" stroke="#fff" stroke-width="2.5" stroke-dasharray="1.7 0.9"/>
<line x1="8.3" y1="955" x2="49" y2="995" stroke="#0b0b0b" stroke-width="7.5"/>
<line x1="6.3" y1="957" x2="47" y2="997.3" stroke="#fff" stroke-width="2.1" stroke-dasharray="1.7 0.9"/>
<rect x="46" y="989.5" width="43" height="7.5" fill="#0b0b0b"/>
<rect x="145" y="989.5" width="44" height="7.5" fill="#0b0b0b"/>
<line x1="47" y1="995.6" x2="88" y2="995.6" stroke="#fff" stroke-width="2.1" stroke-dasharray="1.7 0.9"/>
<line x1="146" y1="995.6" x2="188" y2="995.6" stroke="#fff" stroke-width="2.1" stroke-dasharray="1.7 0.9"/>
<line x1="89" y1="993.3" x2="145" y2="993.3" stroke="#fff" stroke-width="7"/>
<line x1="89" y1="990.2" x2="145" y2="990.2" stroke="#151515" stroke-width="1"/>
<line x1="89" y1="996.4" x2="145" y2="996.4" stroke="#151515" stroke-width="1"/>
<line x1="89" y1="993.3" x2="145" y2="993.3" stroke="#666" stroke-width="0.6"/>
<rect x="112.5" y="989.5" width="6.5" height="7.5" fill="#0b0b0b"/>
<line x1="186.5" y1="995" x2="224.5" y2="956" stroke="#0b0b0b" stroke-width="7.5"/>
<line x1="189" y1="997.3" x2="226.5" y2="958.5" stroke="#fff" stroke-width="2.1" stroke-dasharray="1.7 0.9"/>
<rect x="221" y="884" width="5.5" height="74" fill="#0b0b0b"/>
<line x1="225.2" y1="889" x2="225.2" y2="957" stroke="#fff" stroke-width="1.9" stroke-dasharray="1.7 0.9"/>
<rect x="221" y="881.5" width="37" height="7" fill="#0b0b0b"/>
<line x1="222" y1="887.2" x2="258" y2="887.2" stroke="#fff" stroke-width="2.1" stroke-dasharray="1.7 0.9"/>
<line x1="257" y1="885" x2="394" y2="806" stroke="#0b0b0b" stroke-width="7"/>
<line x1="258" y1="886.75" x2="395" y2="807.75" stroke="#fff" stroke-width="2.3" stroke-dasharray="1.7 0.9"/>
<rect x="392" y="802" width="22.5" height="6.5" fill="#0b0b0b"/>
<line x1="396" y1="807.2" x2="407" y2="807.2" stroke="#fff" stroke-width="1.9" stroke-dasharray="1.7 0.9"/>
<rect x="405" y="805" width="9.5" height="18" fill="#0b0b0b"/>
<line x1="406.4" y1="809" x2="406.4" y2="822" stroke="#fff" stroke-width="1.9" stroke-dasharray="1.7 0.9"/>
<rect x="410" y="796.5" width="4.5" height="9.5" fill="#0b0b0b"/>
<g transform="translate(300.3 855.8) rotate(-30.2)">
<rect x="0" y="-0.3" width="51" height="14.3" fill="#fff"/>
<rect x="-4.6" y="7" width="60.2" height="7.6" fill="#111"/>
<rect x="-3.8" y="7.8" width="58.6" height="6" fill="#fff"/>
<line x1="-3.6" y1="12.1" x2="10.5" y2="12.1" stroke="#111" stroke-width="3.2" stroke-dasharray="0.9 1.7"/>
<line x1="40.5" y1="12.1" x2="54.6" y2="12.1" stroke="#111" stroke-width="3.2" stroke-dasharray="0.9 1.7"/>
<line x1="-2.2" y1="7.8" x2="-2.2" y2="13.6" stroke="#111" stroke-width="3" stroke-dasharray="0.9 1.7"/>
<line x1="53.2" y1="7.8" x2="53.2" y2="13.6" stroke="#111" stroke-width="3" stroke-dasharray="0.9 1.7"/>
<rect x="-0.6" y="-0.3" width="4" height="10.8" fill="#0b0b0b"/>
<rect x="-0.6" y="5.5" width="11.1" height="5" fill="#0b0b0b"/>
<rect x="47.6" y="-0.3" width="4" height="10.8" fill="#0b0b0b"/>
<rect x="40.5" y="5.5" width="11.1" height="5" fill="#0b0b0b"/>
<line x1="3.4" y1="0" x2="47.6" y2="0" stroke="#444" stroke-width="0.7"/>
<line x1="10.5" y1="7.2" x2="40.5" y2="7.2" stroke="#222" stroke-width="0.8"/>
<line x1="10.5" y1="8.6" x2="40.5" y2="8.6" stroke="#222" stroke-width="0.8"/>
<line x1="10.5" y1="14.1" x2="40.5" y2="14.1" stroke="#222" stroke-width="1"/>
</g>
<rect x="405" y="813" width="125.4" height="9.5" fill="#0b0b0b"/>
<line x1="424" y1="817.8" x2="447.5" y2="817.8" stroke="#fff" stroke-width="8.5"/>
<line x1="424" y1="813.95" x2="447.5" y2="813.95" stroke="#151515" stroke-width="1"/>
<line x1="424" y1="821.65" x2="447.5" y2="821.65" stroke="#151515" stroke-width="1"/>
<line x1="424" y1="817.8" x2="447.5" y2="817.8" stroke="#666" stroke-width="0.6"/>
<line x1="457" y1="817.8" x2="480" y2="817.8" stroke="#fff" stroke-width="8.5"/>
<line x1="457" y1="813.95" x2="480" y2="813.95" stroke="#151515" stroke-width="1"/>
<line x1="457" y1="821.65" x2="480" y2="821.65" stroke="#151515" stroke-width="1"/>
<line x1="457" y1="817.8" x2="480" y2="817.8" stroke="#666" stroke-width="0.6"/>
<line x1="490" y1="817.8" x2="513" y2="817.8" stroke="#fff" stroke-width="8.5"/>
<line x1="490" y1="813.95" x2="513" y2="813.95" stroke="#151515" stroke-width="1"/>
<line x1="490" y1="821.65" x2="513" y2="821.65" stroke="#151515" stroke-width="1"/>
<line x1="490" y1="817.8" x2="513" y2="817.8" stroke="#666" stroke-width="0.6"/>
<rect x="447.5" y="813" width="9.5" height="9" fill="#0b0b0b"/>
<rect x="480" y="813" width="10" height="9" fill="#0b0b0b"/>
<line x1="406" y1="820.6" x2="424" y2="820.6" stroke="#fff" stroke-width="2.7" stroke-dasharray="1.7 0.9"/>
<line x1="513" y1="820.6" x2="534" y2="820.6" stroke="#fff" stroke-width="2.7" stroke-dasharray="1.7 0.9"/>
<rect x="524.5" y="772.3" width="10.2" height="50.2" fill="#0b0b0b"/>
<line x1="532.6" y1="781" x2="532.6" y2="822" stroke="#fff" stroke-width="2.9" stroke-dasharray="1.7 0.9"/>
<rect x="524.5" y="772.3" width="36.5" height="12.7" fill="#0b0b0b"/>
<line x1="531" y1="782.6" x2="554" y2="782.6" stroke="#fff" stroke-width="2.9" stroke-dasharray="1.7 0.9"/>
<rect x="550.8" y="772.3" width="10.2" height="18.7" fill="#0b0b0b"/>
<line x1="552.8" y1="781" x2="552.8" y2="790" stroke="#fff" stroke-width="2.7" stroke-dasharray="1.7 0.9"/>
<rect x="613.8" y="772.3" width="8.5" height="18.7" fill="#0b0b0b"/>
<line x1="620.4" y1="781" x2="620.4" y2="790" stroke="#fff" stroke-width="2.7" stroke-dasharray="1.7 0.9"/>
<rect x="613.8" y="772.3" width="32.2" height="12.7" fill="#0b0b0b"/>
<line x1="621" y1="782.6" x2="645" y2="782.6" stroke="#fff" stroke-width="2.9" stroke-dasharray="1.7 0.9"/>
<rect x="641.5" y="780" width="4.5" height="11" fill="#0b0b0b"/>
<line x1="644" y1="782" x2="644" y2="790" stroke="#fff" stroke-width="2.7" stroke-dasharray="1.7 0.9"/>
<rect x="644.5" y="740" width="10.2" height="46.5" fill="#0b0b0b"/>
<rect x="650" y="758.7" width="4.7" height="19.6" fill="#fff"/>
<path d="M550.5 791 A38 38 0 0 0 624.3 791" fill="none" stroke="#fff" stroke-width="0.1" />
<path d="M549.97 791 A38.5 38.5 0 0 0 624.83 791" fill="none" stroke="#222" stroke-width="1" />
<path d="M552.34 791 A36.2 36.2 0 0 0 622.46 791" fill="none" stroke="#555" stroke-width="0.7" />
<path d="M555.03 791 A33.6 33.6 0 0 0 619.77 791" fill="none" stroke="#555" stroke-width="0.7" />
<path d="M557.53 791 A31.2 31.2 0 0 0 617.27 791" fill="none" stroke="#222" stroke-width="1" />
<rect x="568.14" y="809.08" width="8" height="8.5" fill="#0b0b0b" transform="rotate(26 572.14 813.28)"/>
<rect x="598.66" y="809.08" width="8" height="8.5" fill="#0b0b0b" transform="rotate(-26 602.66 813.28)"/>
<rect x="14.5" y="778" width="35.5" height="25" fill="#12CDF2"/>
<line x1="32" y1="790.5" x2="14.5" y2="778" stroke="#0a86a8" stroke-width="0.5"/>
<line x1="32" y1="790.5" x2="50" y2="778" stroke="#0a86a8" stroke-width="0.5"/>
<line x1="32" y1="790.5" x2="14.5" y2="803" stroke="#0a86a8" stroke-width="0.5"/>
<line x1="32" y1="790.5" x2="50" y2="803" stroke="#0a86a8" stroke-width="0.5"/>
<rect x="50" y="777" width="9" height="26" fill="#fff"/>
<rect x="29" y="803" width="32" height="5" fill="#0b0b0b"/>
<rect x="14" y="803.5" width="15" height="3.5" fill="#fff" stroke="#666" stroke-width="0.5"/>
<rect x="59" y="776" width="5.5" height="89" fill="#0b0b0b"/>
<rect x="35" y="861" width="29.5" height="4.5" fill="#0b0b0b"/>
<rect x="44" y="830" width="16" height="5" fill="#0b0b0b"/>
<rect x="45" y="835" width="14" height="26.5" fill="#fff" stroke="#777" stroke-width="0.6"/>
<ellipse cx="52.5" cy="848.5" rx="5.3" ry="6.3" fill="#12CDF2" stroke="#0a86a8" stroke-width="0.7"/>
<ellipse cx="52.5" cy="848.5" rx="2.6" ry="4" fill="#fff" stroke="#0a86a8" stroke-width="0.5"/>
<rect x="51.5" y="809" width="7" height="19" fill="#fff" stroke="#444" stroke-width="0.7"/>
<ellipse cx="46.5" cy="818.5" rx="6" ry="4.8" fill="#fff" stroke="#444" stroke-width="0.7"/>
<rect x="14.5" y="843" width="3" height="18.5" fill="#ddd" stroke="#555" stroke-width="0.6"/>
<path d="M16 842.5 A19 19 0 0 1 35 861.5" fill="none" stroke="#555" stroke-width="0.8" />
<polygon points="64.5,776.5 79.5,776.5 79.5,846 70,856.5 64.5,856.5" fill="#fff" stroke="#777" stroke-width="0.6"/>
<line x1="69.5" y1="776.5" x2="69.5" y2="812" stroke="#777" stroke-width="0.6"/>
<line x1="74.5" y1="776.5" x2="74.5" y2="812" stroke="#777" stroke-width="0.6"/>
<rect x="65.5" y="817" width="13.5" height="12" fill="#fff" stroke="#333" stroke-width="0.7"/>
<line x1="65.5" y1="817" x2="79" y2="829" stroke="#444" stroke-width="0.6"/>
<line x1="65.5" y1="829" x2="79" y2="817" stroke="#444" stroke-width="0.6"/>
<rect x="66" y="834" width="10" height="10.5" fill="#12CDF2" stroke="#555" stroke-width="0.7"/>
<line x1="211" y1="776" x2="211" y2="846" stroke="#666" stroke-width="0.8"/>
<line x1="219" y1="776" x2="219" y2="846" stroke="#666" stroke-width="0.8"/>
<line x1="219" y1="813" x2="207.5" y2="813" stroke="#111" stroke-width="0.9"/>
<polygon points="206,813 209.83,814.71 209.83,811.29" fill="#111"/>
<text x="221" y="816" font-size="8.5" font-weight="bold" text-anchor="start" fill="#111" textLength="13" lengthAdjust="spacingAndGlyphs" stroke="#111" stroke-width="0.5">DN</text>
<text x="21" y="282.5" font-size="18.5" fill="#111" stroke="#111" stroke-width="0.4" textLength="104" lengthAdjust="spacingAndGlyphs">BONUS RM</text>
<line x1="20" y1="287" x2="126" y2="287" stroke="#8a7a66" stroke-width="1"/>
<text x="49" y="303" font-size="13.5" font-weight="bold" text-anchor="start" fill="#111" textLength="47" lengthAdjust="spacingAndGlyphs">18' x 54'</text>
<text x="55.5" y="318" font-size="11.5" font-weight="bold" text-anchor="start" fill="#111" textLength="35.5" lengthAdjust="spacingAndGlyphs">10' CLG</text>
<text x="240" y="141" font-size="11.5" font-weight="bold" text-anchor="start" fill="#111" textLength="37" lengthAdjust="spacingAndGlyphs">VLT CLG</text>
<text x="331" y="68" font-size="11.5" font-weight="bold" text-anchor="start" fill="#111" textLength="45" lengthAdjust="spacingAndGlyphs">BALCONY</text>
<text x="714.5" y="180.5" font-size="11.5" font-weight="bold" text-anchor="start" fill="#111" textLength="45" lengthAdjust="spacingAndGlyphs">BALCONY</text>
<text x="526" y="279" font-size="11.5" font-weight="bold" text-anchor="start" fill="#111" textLength="45" lengthAdjust="spacingAndGlyphs">BALCONY</text>
<text x="321" y="171" font-size="19" fill="#111" stroke="#111" stroke-width="0.4" textLength="86.5" lengthAdjust="spacingAndGlyphs">BEDRM 3</text>
<line x1="320" y1="176" x2="408.5" y2="176" stroke="#8a7a66" stroke-width="1"/>
<text x="340" y="196" font-size="15" font-weight="bold" text-anchor="start" fill="#111" textLength="48" lengthAdjust="spacingAndGlyphs">17' x 19'</text>
<text x="350" y="214.5" font-size="12.5" font-weight="bold" text-anchor="start" fill="#111" textLength="30" lengthAdjust="spacingAndGlyphs">9'CLG</text>
<text x="191" y="304" font-size="14.5" fill="#111" stroke="#111" stroke-width="0.4" textLength="31" lengthAdjust="spacingAndGlyphs">UTIL</text>
<line x1="190" y1="307" x2="223" y2="307" stroke="#8a7a66" stroke-width="1"/>
<text x="196" y="438.5" font-size="15" fill="#111" stroke="#111" stroke-width="0.4" textLength="22" lengthAdjust="spacingAndGlyphs">B 4</text>
<line x1="195.5" y1="442" x2="219" y2="442" stroke="#8a7a66" stroke-width="1"/>
<text x="270" y="285.5" font-size="15" fill="#111" stroke="#111" stroke-width="0.4" textLength="22" lengthAdjust="spacingAndGlyphs">B 3</text>
<line x1="270" y1="289" x2="292.5" y2="289" stroke="#8a7a66" stroke-width="1"/>
<text x="246" y="428" font-size="18.5" fill="#111" stroke="#111" stroke-width="0.4" textLength="85" lengthAdjust="spacingAndGlyphs">BEDRM 4</text>
<line x1="245" y1="432" x2="332" y2="432" stroke="#8a7a66" stroke-width="1"/>
<text x="263" y="450.5" font-size="14.5" font-weight="bold" text-anchor="start" fill="#111" textLength="51" lengthAdjust="spacingAndGlyphs">16' x 16'</text>
<text x="271" y="466" font-size="11.5" font-weight="bold" text-anchor="start" fill="#111" textLength="35" lengthAdjust="spacingAndGlyphs">10' CLG</text>
<text x="406" y="396" font-size="18.5" fill="#111" stroke="#111" stroke-width="0.4" textLength="92" lengthAdjust="spacingAndGlyphs">GAME RM</text>
<line x1="405" y1="401" x2="499" y2="401" stroke="#8a7a66" stroke-width="1"/>
<text x="427.5" y="422" font-size="14.5" font-weight="bold" text-anchor="start" fill="#111" textLength="51" lengthAdjust="spacingAndGlyphs">18' x 24'</text>
<text x="437" y="438.5" font-size="11.5" font-weight="bold" text-anchor="start" fill="#111" textLength="32" lengthAdjust="spacingAndGlyphs">9' CLG</text>
<text x="611" y="425" font-size="11" font-weight="bold" text-anchor="start" fill="#111" textLength="32" lengthAdjust="spacingAndGlyphs">22' CLG</text>
<text x="618" y="510.5" font-size="11" font-weight="bold" text-anchor="start" fill="#111" textLength="34" lengthAdjust="spacingAndGlyphs">LOGGIA</text>
<text x="758" y="291" font-size="10" fill="#111" stroke="#111" stroke-width="0.35" textLength="44" lengthAdjust="spacingAndGlyphs">SLEEPING</text>
<text x="763.4" y="303.6" font-size="10" fill="#111" stroke="#111" stroke-width="0.35" textLength="35.1" lengthAdjust="spacingAndGlyphs">ALCOVE</text>
<text x="817.2" y="335.5" font-size="15" fill="#111" stroke="#111" stroke-width="0.4" textLength="85.2" lengthAdjust="spacingAndGlyphs">WARDROBE</text>
<line x1="813.9" y1="339.2" x2="902.4" y2="339.2" stroke="#8a7a66" stroke-width="1"/>
<text x="797" y="392.5" font-size="15" fill="#111" stroke="#111" stroke-width="0.4" textLength="21" lengthAdjust="spacingAndGlyphs">B 5</text>
<line x1="796" y1="396" x2="819" y2="396" stroke="#8a7a66" stroke-width="1"/>
<text x="0" y="0" font-size="10.5" font-weight="bold" text-anchor="start" fill="#111" stroke="#111" stroke-width="0.3" textLength="37" lengthAdjust="spacingAndGlyphs" transform="translate(740.3 479) rotate(-90)">BUILT-IN</text>
<text x="795" y="538" font-size="18.5" fill="#111" stroke="#111" stroke-width="0.4" textLength="94.5" lengthAdjust="spacingAndGlyphs">STORAGE</text>
<line x1="794" y1="542" x2="890.5" y2="542" stroke="#8a7a66" stroke-width="1"/>
<text x="814" y="561" font-size="15" font-weight="bold" text-anchor="start" fill="#111" textLength="55" lengthAdjust="spacingAndGlyphs">16' x 23'</text>
<text x="822.5" y="577" font-size="11.5" font-weight="bold" text-anchor="start" fill="#111" textLength="35.5" lengthAdjust="spacingAndGlyphs">10' CLG</text>
<text x="839" y="615" font-size="10.5" fill="#111" stroke="#111" stroke-width="0.35" textLength="31" lengthAdjust="spacingAndGlyphs">BOOKS</text>
<text x="791" y="630.5" font-size="10.5" fill="#111" stroke="#111" stroke-width="0.35" textLength="37" lengthAdjust="spacingAndGlyphs">LIBRARY</text>
<text x="798" y="738.5" font-size="11" font-weight="bold" text-anchor="start" fill="#111" textLength="32" lengthAdjust="spacingAndGlyphs">22' CLG</text>
<text x="0" y="0" font-size="11" font-weight="normal" text-anchor="start" fill="#111" stroke="#111" stroke-width="0.3" textLength="34" lengthAdjust="spacingAndGlyphs" transform="translate(749 726) rotate(-90)">LOGGIA</text>
<text x="0" y="0" font-size="10.5" font-weight="normal" text-anchor="start" fill="#111" stroke="#111" stroke-width="0.3" textLength="36" lengthAdjust="spacingAndGlyphs" transform="translate(885.5 751) rotate(-90)">LIBRARY</text>
<text x="0" y="0" font-size="10.5" font-weight="normal" text-anchor="start" fill="#111" stroke="#111" stroke-width="0.3" textLength="31" lengthAdjust="spacingAndGlyphs" transform="translate(907 758) rotate(-90)">BOOKS</text>
<text x="799.5" y="854" font-size="10.5" fill="#111" stroke="#111" stroke-width="0.35" textLength="40" lengthAdjust="spacingAndGlyphs">READING</text>
<text x="0" y="0" font-size="10" font-weight="normal" text-anchor="start" fill="#111" stroke="#111" stroke-width="0.3" textLength="29" lengthAdjust="spacingAndGlyphs" transform="translate(737.8 813.5) rotate(-90)">BOOKS</text>
<text x="666.7" y="824" font-size="11" font-weight="bold" text-anchor="start" fill="#111" textLength="41.8" lengthAdjust="spacingAndGlyphs">BALCONY</text>
<text x="571.6" y="787.3" font-size="11" font-weight="bold" text-anchor="start" fill="#111" textLength="32.4" lengthAdjust="spacingAndGlyphs">22' CLG</text>
<text x="568" y="715" font-size="11" font-weight="bold" text-anchor="start" fill="#111" textLength="33" lengthAdjust="spacingAndGlyphs">22' CLG</text>
<text x="452.5" y="752" font-size="11" font-weight="bold" text-anchor="start" fill="#111" textLength="32.5" lengthAdjust="spacingAndGlyphs">22' CLG</text>
<text x="675.5" y="680" font-size="11" font-weight="bold" text-anchor="start" fill="#111" textLength="32" lengthAdjust="spacingAndGlyphs">21' CLG</text>
<text x="543" y="541.5" font-size="15" fill="#111" stroke="#111" stroke-width="0.4" textLength="23" lengthAdjust="spacingAndGlyphs">PW</text>
<line x1="542.5" y1="545" x2="566" y2="545" stroke="#8a7a66" stroke-width="1"/>
<text x="559" y="615" font-size="10" font-weight="bold" text-anchor="start" fill="#111" textLength="17" lengthAdjust="spacingAndGlyphs">BAR</text>
<text x="426" y="592" font-size="18.5" fill="#111" stroke="#111" stroke-width="0.4" textLength="96" lengthAdjust="spacingAndGlyphs">MEDIA RM</text>
<line x1="425" y1="597" x2="523" y2="597" stroke="#8a7a66" stroke-width="1"/>
<text x="450.5" y="616" font-size="14.5" font-weight="bold" text-anchor="start" fill="#111" textLength="52" lengthAdjust="spacingAndGlyphs">15' x 19'</text>
<text x="461" y="633.5" font-size="11.5" font-weight="bold" text-anchor="start" fill="#111" textLength="31.5" lengthAdjust="spacingAndGlyphs">9' CLG</text>
<text x="311.3" y="527.5" font-size="13" fill="#111" stroke="#111" stroke-width="0.4" textLength="27.7" lengthAdjust="spacingAndGlyphs">MINI</text>
<text x="302.7" y="541.3" font-size="13" fill="#111" stroke="#111" stroke-width="0.4" textLength="44" lengthAdjust="spacingAndGlyphs">STUDY</text>
<line x1="300.7" y1="544.7" x2="349.6" y2="544.7" stroke="#8a7a66" stroke-width="1"/>
<text x="311" y="555.6" font-size="10.5" font-weight="bold" text-anchor="start" fill="#111" textLength="30.5" lengthAdjust="spacingAndGlyphs">11' x 13'</text>
<text x="264" y="788" font-size="18.5" fill="#111" stroke="#111" stroke-width="0.4" textLength="80" lengthAdjust="spacingAndGlyphs">LOUNGE</text>
<line x1="262.5" y1="792" x2="346" y2="792" stroke="#8a7a66" stroke-width="1"/>
<text x="275" y="808" font-size="15" font-weight="bold" text-anchor="start" fill="#111" textLength="56" lengthAdjust="spacingAndGlyphs">13' x 22'</text>
<text x="286" y="824" font-size="11.5" font-weight="bold" text-anchor="start" fill="#111" textLength="35" lengthAdjust="spacingAndGlyphs">10' CLG</text>
<text x="15.5" y="831" font-size="15" fill="#111" stroke="#111" stroke-width="0.4" textLength="22.5" lengthAdjust="spacingAndGlyphs">B 6</text>
<line x1="15.5" y1="835" x2="39" y2="835" stroke="#8a7a66" stroke-width="1"/>
<text x="0" y="0" font-size="10" font-weight="normal" text-anchor="start" fill="#111" stroke="#111" stroke-width="0.3" textLength="18.5" lengthAdjust="spacingAndGlyphs" transform="translate(90 825.25) rotate(-90)">BAR</text>
<text x="40" y="900" font-size="18.5" fill="#111" stroke="#111" stroke-width="0.4" textLength="115" lengthAdjust="spacingAndGlyphs">TROPHY RM</text>
<line x1="37.5" y1="904.5" x2="155" y2="904.5" stroke="#8a7a66" stroke-width="1"/>
<text x="70.5" y="923" font-size="15" font-weight="bold" text-anchor="start" fill="#111" textLength="54" lengthAdjust="spacingAndGlyphs">22' x 27'</text>
<text x="80.5" y="939" font-size="11.5" font-weight="bold" text-anchor="start" fill="#111" textLength="35" lengthAdjust="spacingAndGlyphs">10' CLG</text>
<text x="0" y="0" font-size="18.5" font-weight="normal" fill="#111" textLength="79.85" lengthAdjust="spacingAndGlyphs" transform="translate(676 294.7) rotate(-43.83)">BEDRM 5</text>
<line x1="677" y1="300" x2="738" y2="240.4" stroke="#8a7a66" stroke-width="1"/>
<text x="0" y="0" font-size="14" font-weight="bold" fill="#111" textLength="49.64" lengthAdjust="spacingAndGlyphs" transform="translate(697.4 296.8) rotate(-45)">19' x 21'</text>
<text x="0" y="0" font-size="11.5" font-weight="bold" fill="#111" textLength="29.56" lengthAdjust="spacingAndGlyphs" transform="translate(716 303) rotate(-45.27)">9' CLG</text>
</svg></body></html>
